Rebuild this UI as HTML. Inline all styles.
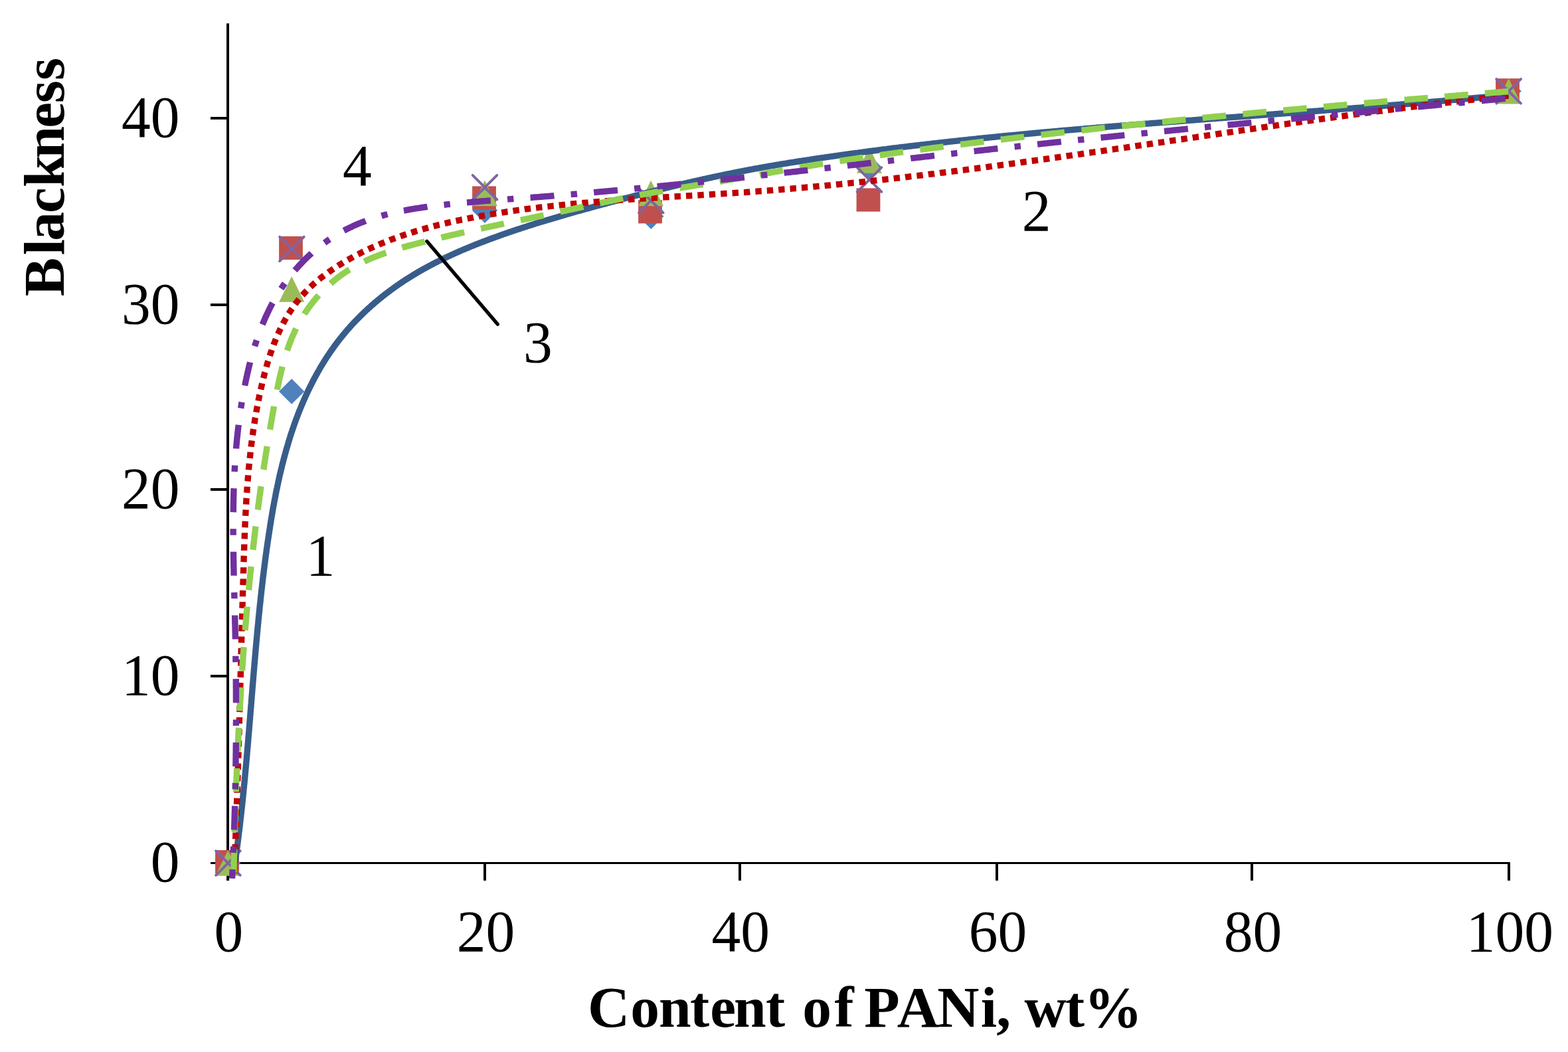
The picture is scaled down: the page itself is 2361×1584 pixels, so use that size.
<!DOCTYPE html>
<html lang="en">
<head>
<meta charset="utf-8">
<title>Blackness vs Content of PANi</title>
<style>
html,body{margin:0;padding:0;background:#fff;}
body{width:2361px;height:1584px;overflow:hidden;}
svg{display:block;}
</style>
</head>
<body>
<svg xmlns="http://www.w3.org/2000/svg" width="2361" height="1584" viewBox="0 0 2361 1584">
<rect width="2361" height="1584" fill="#fff"/>
<g stroke="#000" fill="none">
<line x1="343.03" y1="35.2" x2="343.03" y2="1325.9" stroke-width="3.95"/>
<line x1="317" y1="1299.45" x2="2273.9" y2="1299.45" stroke-width="3.08"/>
<line x1="317" y1="1018.00" x2="343" y2="1018.00" stroke-width="3.95"/>
<line x1="317" y1="737.00" x2="343" y2="737.00" stroke-width="3.95"/>
<line x1="317" y1="458.97" x2="343" y2="458.97" stroke-width="3.95"/>
<line x1="317" y1="177.95" x2="343" y2="177.95" stroke-width="3.95"/>
<line x1="730.00" y1="1299" x2="730.00" y2="1325.9" stroke-width="3.95"/>
<line x1="1113.97" y1="1299" x2="1113.97" y2="1325.9" stroke-width="3.95"/>
<line x1="1501.00" y1="1299" x2="1501.00" y2="1325.9" stroke-width="3.95"/>
<line x1="1885.00" y1="1299" x2="1885.00" y2="1325.9" stroke-width="3.95"/>
<line x1="2272.00" y1="1299" x2="2272.00" y2="1325.9" stroke-width="3.95"/>
</g>
<g font-family="'Liberation Serif', 'Times New Roman', serif" font-size="87.5" fill="#000">
<text transform="translate(270.6 1327.45) scale(1 1.018)" text-anchor="end">0</text>
<text transform="translate(270.6 1046.00) scale(1 1.018)" text-anchor="end">10</text>
<text transform="translate(270.6 765.00) scale(1 1.018)" text-anchor="end">20</text>
<text transform="translate(270.6 486.97) scale(1 1.018)" text-anchor="end">30</text>
<text transform="translate(270.6 205.95) scale(1 1.018)" text-anchor="end">40</text>
<text transform="translate(344.45 1431.9) scale(1 1.018)" text-anchor="middle">0</text>
<text transform="translate(731.40 1431.9) scale(1 1.018)" text-anchor="middle">20</text>
<text transform="translate(1115.37 1431.9) scale(1 1.018)" text-anchor="middle">40</text>
<text transform="translate(1502.40 1431.9) scale(1 1.018)" text-anchor="middle">60</text>
<text transform="translate(1886.40 1431.9) scale(1 1.018)" text-anchor="middle">80</text>
<text transform="translate(2273.40 1431.9) scale(1 1.018)" text-anchor="middle">100</text>
</g>
<g font-family="'Liberation Serif', 'Times New Roman', serif" font-weight="bold" font-size="87.5" fill="#000">
<text x="885.1 949.3 991.9 1039.0 1069.3 1105.0 1152.9 1182.0 1208.2 1256.4 1285.5 1301.2 1350.7 1411.3 1476.8 1500.2 1522.0 1542.5 1604.0 1632.6" y="1546.4">Content of PANi, wt%</text>
<text transform="translate(96.2 446.24) rotate(-90)" x="0.0 61.9 83.6 125.2 164.2 207.7 253.5 291.0 325.2" y="0">Blackness</text>
</g>
<g>
<path d="M343.2,1280.3 L362.4,1299.5 L343.2,1318.7 L324.0,1299.5 Z" fill="#4F81BD"/>
<path d="M439.2,570.1999999999999 L458.4,589.4 L439.2,608.6 L420.0,589.4 Z" fill="#4F81BD"/>
<path d="M730,297.6 L749.2,316.8 L730,336.0 L710.8,316.8 Z" fill="#4F81BD"/>
<path d="M980.3,306.6 L999.5,325.8 L980.3,345.0 L961.0999999999999,325.8 Z" fill="#4F81BD"/>
<path d="M1308,232.0 L1327.2,251.2 L1308,270.4 L1288.8,251.2 Z" fill="#4F81BD"/>
<path d="M2271.6,118.10000000000001 L2290.7999999999997,137.3 L2271.6,156.5 L2252.4,137.3 Z" fill="#4F81BD"/>
<rect x="324.1" y="1280.1" width="35.8" height="35.2" fill="#C0504D"/>
<rect x="420.1" y="355.8" width="35.8" height="35.2" fill="#C0504D"/>
<rect x="711.1" y="280.4" width="35.8" height="35.2" fill="#C0504D"/>
<rect x="961.1" y="301.2" width="35.8" height="35.2" fill="#C0504D"/>
<rect x="1289.6" y="283.4" width="35.8" height="35.2" fill="#C0504D"/>
<rect x="2252.1" y="118.2" width="35.8" height="35.2" fill="#C0504D"/>
<path d="M343.2,1280.2 L362.2,1318.8 L324.2,1318.8 Z" fill="#9BBB59"/>
<path d="M439.2,416.09999999999997 L458.2,454.7 L420.2,454.7 Z" fill="#9BBB59"/>
<path d="M730,271.59999999999997 L749,310.2 L711,310.2 Z" fill="#9BBB59"/>
<path d="M980.1,271.7 L999.1,310.3 L961.1,310.3 Z" fill="#9BBB59"/>
<path d="M1309,222.2 L1328,260.8 L1290,260.8 Z" fill="#9BBB59"/>
<path d="M2271.6,118.00000000000001 L2290.6,156.60000000000002 L2252.6,156.60000000000002 Z" fill="#9BBB59"/>
<path d="M325.09999999999997,1281.2 L361.7,1317.8 M325.09999999999997,1317.8 L361.7,1281.2" stroke="#8064A2" stroke-width="3.9" stroke-linecap="round" fill="none"/>
<path d="M421.09999999999997,356.59999999999997 L457.7,393.2 M421.09999999999997,393.2 L457.7,356.59999999999997" stroke="#8064A2" stroke-width="3.9" stroke-linecap="round" fill="none"/>
<path d="M711.7,263.9 L748.3,300.5 M711.7,300.5 L748.3,263.9" stroke="#8064A2" stroke-width="3.9" stroke-linecap="round" fill="none"/>
<path d="M962.0,283.7 L998.5999999999999,320.3 M962.0,320.3 L998.5999999999999,283.7" stroke="#8064A2" stroke-width="3.9" stroke-linecap="round" fill="none"/>
<path d="M1290.7,252.2 L1327.3,288.8 M1290.7,288.8 L1327.3,252.2" stroke="#8064A2" stroke-width="3.9" stroke-linecap="round" fill="none"/>
<path d="M2253.2999999999997,119.00000000000001 L2289.9,155.60000000000002 M2253.2999999999997,155.60000000000002 L2289.9,119.00000000000001" stroke="#8064A2" stroke-width="3.9" stroke-linecap="round" fill="none"/>
</g>
<g fill="none" stroke-width="9.4" stroke-linejoin="round">
<path d="M352.3,1309.1 L352.6,1307.3 L352.9,1305.5 L353.1,1303.8 L353.4,1302.0 L353.6,1300.3 L353.9,1298.5 L354.1,1296.7 L354.4,1295.0 L354.6,1293.2 L354.9,1291.4 L355.1,1289.7 L355.4,1287.9 L355.6,1286.2 L355.9,1284.4 L356.1,1282.6 L356.3,1280.9 L356.6,1279.1 L356.8,1277.4 L357.0,1275.6 L357.3,1273.8 L357.5,1272.1 L357.7,1270.3 L358.0,1268.6 L358.2,1266.8 L358.4,1265.0 L358.6,1263.3 L358.9,1261.5 L359.1,1259.8 L359.3,1258.0 L359.5,1256.2 L359.7,1254.5 L359.9,1252.7 L360.2,1250.9 L360.4,1249.2 L360.6,1247.4 L360.8,1245.7 L361.0,1243.9 L361.2,1242.1 L361.4,1240.4 L361.6,1238.6 L361.8,1236.9 L362.0,1235.1 L362.2,1233.3 L362.4,1231.6 L362.6,1229.8 L362.8,1228.0 L363.0,1226.3 L363.2,1224.5 L363.4,1222.8 L363.6,1221.0 L363.8,1219.2 L364.0,1217.5 L364.2,1215.7 L364.4,1214.0 L364.6,1212.2 L364.7,1210.4 L364.9,1208.7 L365.1,1206.9 L365.3,1205.1 L365.5,1203.4 L365.7,1201.6 L365.8,1199.9 L366.0,1198.1 L366.2,1196.3 L366.4,1194.6 L366.6,1192.8 L366.7,1191.0 L366.9,1189.3 L367.1,1187.5 L367.3,1185.8 L367.4,1184.0 L367.6,1182.2 L367.8,1180.5 L368.0,1178.7 L368.1,1177.0 L368.3,1175.2 L368.5,1173.4 L368.6,1171.7 L368.8,1169.9 L369.0,1168.1 L369.1,1166.4 L369.3,1164.6 L369.5,1162.9 L369.6,1161.1 L369.8,1159.3 L369.9,1157.6 L370.1,1155.8 L370.3,1154.0 L370.4,1152.3 L370.6,1150.5 L370.7,1148.8 L370.9,1147.0 L371.1,1145.2 L371.2,1143.5 L371.4,1141.7 L371.5,1140.0 L371.7,1138.2 L371.8,1136.4 L372.0,1134.7 L372.1,1132.9 L372.3,1131.1 L372.4,1129.4 L372.6,1127.6 L372.8,1125.9 L372.9,1124.1 L373.1,1122.3 L373.2,1120.6 L373.4,1118.8 L373.5,1117.0 L373.7,1115.3 L373.8,1113.5 L373.9,1111.8 L374.1,1110.0 L374.2,1108.2 L374.4,1106.5 L374.5,1104.7 L374.7,1103.0 L374.8,1101.2 L375.0,1099.4 L375.1,1097.7 L375.3,1095.9 L375.4,1094.1 L375.6,1092.4 L375.7,1090.6 L375.8,1088.9 L376.0,1087.1 L376.1,1085.3 L376.3,1083.6 L376.4,1081.8 L376.6,1080.1 L376.7,1078.3 L376.9,1076.5 L377.0,1074.8 L377.1,1073.0 L377.3,1071.2 L377.4,1069.5 L377.6,1067.7 L377.7,1066.0 L377.9,1064.2 L378.0,1062.4 L378.1,1060.7 L378.3,1058.9 L378.4,1057.2 L378.6,1055.4 L378.7,1053.6 L378.9,1051.9 L379.0,1050.1 L379.1,1048.3 L379.3,1046.6 L379.4,1044.8 L379.6,1043.1 L379.7,1041.3 L379.9,1039.5 L380.0,1037.8 L380.1,1036.0 L380.3,1034.3 L380.4,1032.5 L380.6,1030.7 L380.7,1029.0 L380.9,1027.2 L381.0,1025.4 L381.2,1023.7 L381.3,1021.9 L381.4,1020.2 L381.6,1018.4 L381.7,1016.6 L381.9,1014.9 L382.0,1013.1 L382.2,1011.4 L382.3,1009.6 L382.5,1007.8 L382.6,1006.1 L382.8,1004.3 L382.9,1002.6 L383.1,1000.8 L383.2,999.0 L383.4,997.3 L383.5,995.5 L383.7,993.8 L383.8,992.0 L384.0,990.2 L384.1,988.5 L384.3,986.7 L384.4,985.0 L384.6,983.2 L384.7,981.4 L384.9,979.7 L385.0,977.9 L385.2,976.2 L385.3,974.4 L385.5,972.6 L385.7,970.9 L385.8,969.1 L386.0,967.4 L386.1,965.6 L386.3,963.8 L386.4,962.1 L386.6,960.3 L386.8,958.6 L386.9,956.8 L387.1,955.0 L387.3,953.3 L387.4,951.5 L387.6,949.8 L387.8,948.0 L387.9,946.2 L388.1,944.5 L388.3,942.7 L388.4,941.0 L388.6,939.2 L388.8,937.4 L388.9,935.7 L389.1,933.9 L389.3,932.2 L389.4,930.4 L389.6,928.7 L389.8,926.9 L390.0,925.1 L390.2,923.4 L390.3,921.6 L390.5,919.9 L390.7,918.1 L390.9,916.3 L391.0,914.6 L391.2,912.8 L391.4,911.1 L391.6,909.3 L391.8,907.6 L392.0,905.8 L392.2,904.0 L392.3,902.3 L392.5,900.5 L392.7,898.8 L392.9,897.0 L393.1,895.2 L393.3,893.5 L393.5,891.7 L393.7,890.0 L393.9,888.2 L394.1,886.5 L394.3,884.7 L394.5,882.9 L394.7,881.2 L394.9,879.4 L395.1,877.7 L395.3,875.9 L395.5,874.2 L395.7,872.4 L395.9,870.6 L396.1,868.9 L396.3,867.1 L396.6,865.4 L396.8,863.6 L397.0,861.9 L397.2,860.1 L397.4,858.3 L397.6,856.6 L397.9,854.8 L398.1,853.1 L398.3,851.3 L398.5,849.6 L398.8,847.8 L399.0,846.1 L399.2,844.3 L399.4,842.5 L399.7,840.8 L399.9,839.0 L400.1,837.3 L400.4,835.5 L400.6,833.8 L400.9,832.0 L401.1,830.3 L401.3,828.5 L401.6,826.7 L401.8,825.0 L402.1,823.2 L402.3,821.5 L402.6,819.7 L402.8,818.0 L403.1,816.2 L403.3,814.5 L403.6,812.7 L403.9,810.9 L404.1,809.2 L404.4,807.4 L404.6,805.7 L404.9,803.9 L405.2,802.2 L405.4,800.4 L405.7,798.7 L406.0,796.9 L406.3,795.2 L406.5,793.4 L406.8,791.6 L407.1,789.9 L407.4,788.1 L407.7,786.4 L407.9,784.6 L408.2,782.9 L408.5,781.1 L408.8,779.4 L409.1,777.6 L409.4,775.9 L409.7,774.1 L410.0,772.4 L410.3,770.6 L410.6,768.9 L410.9,767.1 L411.2,765.4 L411.5,763.6 L411.8,761.9 L412.2,760.1 L412.5,758.4 L412.8,756.6 L413.1,754.9 L413.5,753.1 L413.8,751.4 L414.1,749.7 L414.5,747.9 L414.8,746.2 L415.1,744.4 L415.5,742.7 L415.8,740.9 L416.2,739.2 L416.5,737.5 L416.9,735.7 L417.3,734.0 L417.6,732.2 L418.0,730.5 L418.4,728.8 L418.7,727.0 L419.1,725.3 L419.5,723.6 L419.9,721.8 L420.2,720.1 L420.6,718.4 L421.0,716.6 L421.4,714.9 L421.8,713.2 L422.2,711.5 L422.6,709.7 L423.0,708.0 L423.5,706.3 L423.9,704.6 L424.3,702.8 L424.7,701.1 L425.1,699.4 L425.6,697.7 L426.0,696.0 L426.5,694.2 L426.9,692.5 L427.3,690.8 L427.8,689.1 L428.3,687.4 L428.7,685.7 L429.2,684.0 L429.7,682.3 L430.1,680.5 L430.6,678.8 L431.1,677.1 L431.6,675.4 L432.1,673.7 L432.6,672.0 L433.1,670.3 L433.6,668.6 L434.1,666.9 L434.6,665.2 L435.1,663.6 L435.6,661.9 L436.1,660.2 L436.7,658.5 L437.2,656.8 L437.7,655.1 L438.3,653.4 L438.8,651.7 L439.4,650.1 L440.0,648.4 L440.5,646.7 L441.1,645.0 L441.7,643.4 L442.2,641.7 L442.8,640.0 L443.4,638.3 L444.0,636.7 L444.6,635.0 L445.2,633.3 L445.8,631.7 L446.4,630.0 L447.1,628.4 L447.7,626.7 L448.3,625.1 L448.9,623.4 L449.6,621.8 L450.2,620.1 L450.9,618.5 L451.6,616.8 L452.2,615.2 L452.9,613.5 L453.6,611.9 L454.2,610.3 L454.9,608.6 L455.6,607.0 L456.3,605.4 L457.0,603.7 L457.7,602.1 L458.4,600.5 L459.2,598.9 L459.9,597.2 L460.6,595.6 L461.4,594.0 L462.1,592.4 L462.9,590.8 L463.6,589.2 L464.4,587.6 L465.1,586.0 L465.9,584.4 L466.7,582.8 L467.5,581.2 L468.3,579.6 L469.1,578.1 L469.9,576.5 L470.7,574.9 L471.5,573.3 L472.3,571.8 L473.1,570.2 L474.0,568.6 L474.8,567.1 L475.7,565.5 L476.5,564.0 L477.4,562.4 L478.2,560.9 L479.1,559.3 L480.0,557.8 L480.9,556.3 L481.7,554.7 L482.6,553.2 L483.5,551.7 L484.5,550.2 L485.4,548.7 L486.3,547.2 L487.2,545.7 L488.1,544.2 L489.1,542.7 L490.0,541.2 L491.0,539.7 L491.9,538.2 L492.9,536.7 L493.9,535.2 L494.9,533.8 L495.8,532.3 L496.8,530.8 L497.8,529.4 L498.8,527.9 L499.8,526.5 L500.9,525.1 L501.9,523.6 L502.9,522.2 L503.9,520.8 L505.0,519.3 L506.0,517.9 L507.1,516.5 L508.2,515.1 L509.2,513.7 L510.3,512.3 L511.4,510.9 L512.5,509.5 L513.6,508.2 L514.7,506.8 L515.8,505.4 L516.9,504.1 L518.0,502.7 L519.2,501.4 L520.3,500.0 L521.4,498.7 L522.6,497.3 L523.7,496.0 L524.9,494.7 L526.1,493.4 L527.2,492.0 L528.4,490.7 L529.6,489.4 L530.8,488.1 L532.0,486.8 L533.2,485.6 L534.4,484.3 L535.6,483.0 L536.9,481.7 L538.1,480.5 L539.3,479.2 L540.6,478.0 L541.8,476.7 L543.1,475.5 L544.3,474.2 L545.6,473.0 L546.9,471.8 L548.1,470.6 L549.4,469.3 L550.7,468.1 L552.0,466.9 L553.3,465.7 L554.6,464.5 L555.9,463.4 L557.2,462.2 L558.5,461.0 L559.8,459.8 L561.2,458.7 L562.5,457.5 L563.8,456.3 L565.2,455.2 L566.5,454.1 L567.9,452.9 L569.2,451.8 L570.6,450.7 L572.0,449.5 L573.4,448.4 L574.7,447.3 L576.1,446.2 L577.5,445.1 L578.9,444.0 L580.3,442.9 L581.7,441.9 L583.1,440.8 L584.5,439.7 L585.9,438.7 L587.3,437.6 L588.8,436.5 L590.2,435.5 L591.6,434.5 L593.0,433.4 L594.5,432.4 L595.9,431.4 L597.4,430.4 L598.8,429.3 L600.3,428.3 L601.7,427.3 L603.2,426.3 L604.7,425.4 L606.1,424.4 L607.6,423.4 L609.1,422.4 L610.6,421.4 L612.1,420.5 L613.6,419.5 L615.1,418.6 L616.6,417.6 L618.1,416.7 L619.6,415.8 L621.1,414.8 L622.6,413.9 L624.1,413.0 L625.6,412.1 L627.1,411.2 L628.7,410.3 L630.2,409.4 L631.7,408.5 L633.2,407.6 L634.8,406.8 L636.3,405.9 L637.9,405.0 L639.4,404.2 L641.0,403.3 L642.5,402.5 L644.1,401.6 L645.6,400.8 L647.2,399.9 L648.8,399.1 L650.3,398.3 L651.9,397.5 L653.5,396.6 L655.0,395.8 L656.6,395.0 L658.2,394.2 L659.8,393.4 L661.4,392.6 L662.9,391.8 L664.5,391.1 L666.1,390.3 L667.7,389.5 L669.3,388.7 L670.9,388.0 L672.5,387.2 L674.1,386.5 L675.7,385.7 L677.3,385.0 L678.9,384.2 L680.6,383.5 L682.2,382.7 L683.8,382.0 L685.4,381.3 L687.0,380.6 L688.6,379.8 L690.3,379.1 L691.9,378.4 L693.5,377.7 L695.2,377.0 L696.8,376.3 L698.4,375.6 L700.1,374.9 L701.7,374.2 L703.3,373.6 L705.0,372.9 L706.6,372.2 L708.3,371.5 L709.9,370.8 L711.5,370.2 L713.2,369.5 L714.8,368.9 L716.5,368.2 L718.1,367.5 L719.8,366.9 L721.4,366.2 L723.1,365.6 L724.7,365.0 L726.4,364.3 L728.1,363.7 L729.7,363.1 L731.4,362.4 L733.0,361.8 L734.7,361.2 L736.4,360.5 L738.0,359.9 L739.7,359.3 L741.4,358.7 L743.0,358.1 L744.7,357.5 L746.4,356.9 L748.0,356.3 L749.7,355.7 L751.4,355.1 L753.0,354.5 L754.7,353.9 L756.4,353.3 L758.0,352.7 L759.7,352.1 L761.4,351.5 L763.1,351.0 L764.7,350.4 L766.4,349.8 L768.1,349.2 L769.8,348.7 L771.4,348.1 L773.1,347.5 L774.8,347.0 L776.5,346.4 L778.2,345.8 L779.8,345.3 L781.5,344.7 L783.2,344.2 L784.9,343.6 L786.6,343.1 L788.3,342.5 L789.9,342.0 L791.6,341.4 L793.3,340.9 L795.0,340.3 L796.7,339.8 L798.4,339.3 L800.1,338.7 L801.7,338.2 L803.4,337.7 L805.1,337.1 L806.8,336.6 L808.5,336.1 L810.2,335.6 L811.9,335.0 L813.6,334.5 L815.3,334.0 L817.0,333.5 L818.7,333.0 L820.3,332.4 L822.0,331.9 L823.7,331.4 L825.4,330.9 L827.1,330.4 L828.8,329.9 L830.5,329.4 L832.2,328.9 L833.9,328.4 L835.6,327.9 L837.3,327.4 L839.0,326.9 L840.7,326.4 L842.4,325.9 L844.1,325.4 L845.8,324.9 L847.5,324.4 L849.2,323.9 L850.9,323.4 L852.6,322.9 L854.3,322.5 L856.0,322.0 L857.7,321.5 L859.4,321.0 L861.1,320.5 L862.8,320.0 L864.5,319.6 L866.2,319.1 L867.9,318.6 L869.6,318.1 L871.3,317.6 L873.0,317.2 L874.7,316.7 L876.4,316.2 L878.1,315.7 L879.8,315.3 L881.6,314.8 L883.3,314.3 L885.0,313.9 L886.7,313.4 L888.4,312.9 L890.1,312.4 L891.8,312.0 L893.5,311.5 L895.2,311.0 L896.9,310.6 L898.6,310.1 L900.3,309.6 L902.0,309.2 L903.7,308.7 L905.4,308.3 L907.2,307.8 L908.9,307.3 L910.6,306.9 L912.3,306.4 L914.0,305.9 L915.7,305.5 L917.4,305.0 L919.1,304.6 L920.8,304.1 L922.5,303.7 L924.2,303.2 L925.9,302.7 L927.7,302.3 L929.4,301.8 L931.1,301.4 L932.8,300.9 L934.5,300.5 L936.2,300.0 L937.9,299.6 L939.6,299.1 L941.3,298.7 L943.0,298.2 L944.8,297.8 L946.5,297.3 L948.2,296.9 L949.9,296.4 L951.6,296.0 L953.3,295.5 L955.0,295.1 L956.7,294.6 L958.4,294.2 L960.2,293.8 L961.9,293.3 L963.6,292.9 L965.3,292.4 L967.0,292.0 L968.7,291.6 L970.4,291.1 L972.1,290.7 L973.9,290.2 L975.6,289.8 L977.3,289.4 L979.0,288.9 L980.7,288.5 L982.4,288.1 L984.2,287.7 L985.9,287.2 L987.6,286.8 L989.3,286.4 L991.0,285.9 L992.7,285.5 L994.4,285.1 L996.2,284.7 L997.9,284.2 L999.6,283.8 L1001.3,283.4 L1003.0,283.0 L1004.7,282.6 L1006.5,282.1 L1008.2,281.7 L1009.9,281.3 L1011.6,280.9 L1013.3,280.5 L1015.1,280.1 L1016.8,279.7 L1018.5,279.2 L1020.2,278.8 L1021.9,278.4 L1023.7,278.0 L1025.4,277.6 L1027.1,277.2 L1028.8,276.8 L1030.5,276.4 L1032.3,276.0 L1034.0,275.6 L1035.7,275.2 L1037.4,274.8 L1039.2,274.4 L1040.9,274.0 L1042.6,273.6 L1044.3,273.2 L1046.0,272.8 L1047.8,272.4 L1049.5,272.0 L1051.2,271.7 L1052.9,271.3 L1054.7,270.9 L1056.4,270.5 L1058.1,270.1 L1059.9,269.7 L1061.6,269.3 L1063.3,269.0 L1065.0,268.6 L1066.8,268.2 L1068.5,267.8 L1070.2,267.5 L1071.9,267.1 L1073.7,266.7 L1075.4,266.3 L1077.1,266.0 L1078.9,265.6 L1080.6,265.2 L1082.3,264.9 L1084.0,264.5 L1085.8,264.1 L1087.5,263.8 L1089.2,263.4 L1091.0,263.0 L1092.7,262.7 L1094.4,262.3 L1096.2,262.0 L1097.9,261.6 L1099.6,261.3 L1101.4,260.9 L1103.1,260.6 L1104.8,260.2 L1106.6,259.9 L1108.3,259.5 L1110.0,259.2 L1111.8,258.8 L1113.5,258.5 L1115.2,258.2 L1117.0,257.8 L1118.7,257.5 L1120.5,257.2 L1122.2,256.8 L1123.9,256.5 L1125.7,256.2 L1127.4,255.8 L1129.2,255.5 L1130.9,255.2 L1132.6,254.9 L1134.4,254.5 L1136.1,254.2 L1137.9,253.9 L1139.6,253.6 L1141.3,253.3 L1143.1,252.9 L1144.8,252.6 L1146.6,252.3 L1148.3,252.0 L1150.0,251.7 L1151.8,251.4 L1153.5,251.1 L1155.3,250.8 L1157.0,250.5 L1158.8,250.2 L1160.5,249.9 L1162.3,249.6 L1164.0,249.3 L1165.7,249.0 L1167.5,248.7 L1169.2,248.4 L1171.0,248.1 L1172.7,247.8 L1174.5,247.5 L1176.2,247.2 L1178.0,246.9 L1179.7,246.6 L1181.5,246.3 L1183.2,246.1 L1185.0,245.8 L1186.7,245.5 L1188.5,245.2 L1190.2,244.9 L1192.0,244.6 L1193.7,244.4 L1195.4,244.1 L1197.2,243.8 L1198.9,243.5 L1200.7,243.3 L1202.4,243.0 L1204.2,242.7 L1205.9,242.4 L1207.7,242.2 L1209.4,241.9 L1211.2,241.6 L1212.9,241.4 L1214.7,241.1 L1216.5,240.8 L1218.2,240.6 L1220.0,240.3 L1221.7,240.0 L1223.5,239.8 L1225.2,239.5 L1227.0,239.2 L1228.7,239.0 L1230.5,238.7 L1232.2,238.5 L1234.0,238.2 L1235.7,237.9 L1237.5,237.7 L1239.2,237.4 L1241.0,237.2 L1242.7,236.9 L1244.5,236.7 L1246.2,236.4 L1248.0,236.2 L1249.7,235.9 L1251.5,235.7 L1253.3,235.4 L1255.0,235.2 L1256.8,234.9 L1258.5,234.7 L1260.3,234.4 L1262.0,234.2 L1263.8,233.9 L1265.5,233.7 L1267.3,233.4 L1269.0,233.2 L1270.8,232.9 L1272.5,232.7 L1274.3,232.5 L1276.0,232.2 L1277.8,232.0 L1279.6,231.7 L1281.3,231.5 L1283.1,231.2 L1284.8,231.0 L1286.6,230.8 L1288.3,230.5 L1290.1,230.3 L1291.8,230.1 L1293.6,229.8 L1295.3,229.6 L1297.1,229.4 L1298.9,229.1 L1300.6,228.9 L1302.4,228.7 L1304.1,228.4 L1305.9,228.2 L1307.6,228.0 L1309.4,227.7 L1311.1,227.5 L1312.9,227.3 L1314.7,227.0 L1316.4,226.8 L1318.2,226.6 L1319.9,226.4 L1321.7,226.1 L1323.4,225.9 L1325.2,225.7 L1326.9,225.5 L1328.7,225.2 L1330.5,225.0 L1332.2,224.8 L1334.0,224.6 L1335.7,224.3 L1337.5,224.1 L1339.2,223.9 L1341.0,223.7 L1342.7,223.5 L1344.5,223.2 L1346.3,223.0 L1348.0,222.8 L1349.8,222.6 L1351.5,222.4 L1353.3,222.2 L1355.0,221.9 L1356.8,221.7 L1358.6,221.5 L1360.3,221.3 L1362.1,221.1 L1363.8,220.9 L1365.6,220.7 L1367.3,220.5 L1369.1,220.2 L1370.9,220.0 L1372.6,219.8 L1374.4,219.6 L1376.1,219.4 L1377.9,219.2 L1379.6,219.0 L1381.4,218.8 L1383.2,218.6 L1384.9,218.4 L1386.7,218.2 L1388.4,218.0 L1390.2,217.8 L1392.0,217.6 L1393.7,217.4 L1395.5,217.2 L1397.2,217.0 L1399.0,216.8 L1400.7,216.6 L1402.5,216.4 L1404.3,216.2 L1406.0,216.0 L1407.8,215.8 L1409.5,215.6 L1411.3,215.4 L1413.1,215.2 L1414.8,215.0 L1416.6,214.8 L1418.3,214.6 L1420.1,214.4 L1421.8,214.2 L1423.6,214.0 L1425.4,213.8 L1427.1,213.6 L1428.9,213.4 L1430.6,213.2 L1432.4,213.0 L1434.2,212.8 L1435.9,212.6 L1437.7,212.4 L1439.4,212.3 L1441.2,212.1 L1443.0,211.9 L1444.7,211.7 L1446.5,211.5 L1448.2,211.3 L1450.0,211.1 L1451.8,210.9 L1453.5,210.8 L1455.3,210.6 L1457.0,210.4 L1458.8,210.2 L1460.6,210.0 L1462.3,209.8 L1464.1,209.6 L1465.8,209.5 L1467.6,209.3 L1469.4,209.1 L1471.1,208.9 L1472.9,208.7 L1474.6,208.5 L1476.4,208.4 L1478.2,208.2 L1479.9,208.0 L1481.7,207.8 L1483.4,207.7 L1485.2,207.5 L1487.0,207.3 L1488.7,207.1 L1490.5,206.9 L1492.2,206.8 L1494.0,206.6 L1495.8,206.4 L1497.5,206.2 L1499.3,206.1 L1501.0,205.9 L1502.8,205.7 L1504.6,205.5 L1506.3,205.4 L1508.1,205.2 L1509.9,205.0 L1511.6,204.8 L1513.4,204.7 L1515.1,204.5 L1516.9,204.3 L1518.7,204.2 L1520.4,204.0 L1522.2,203.8 L1523.9,203.6 L1525.7,203.5 L1527.5,203.3 L1529.2,203.1 L1531.0,203.0 L1532.8,202.8 L1534.5,202.6 L1536.3,202.5 L1538.0,202.3 L1539.8,202.1 L1541.6,202.0 L1543.3,201.8 L1545.1,201.6 L1546.8,201.5 L1548.6,201.3 L1550.4,201.2 L1552.1,201.0 L1553.9,200.8 L1555.7,200.7 L1557.4,200.5 L1559.2,200.3 L1560.9,200.2 L1562.7,200.0 L1564.5,199.9 L1566.2,199.7 L1568.0,199.5 L1569.8,199.4 L1571.5,199.2 L1573.3,199.0 L1575.0,198.9 L1576.8,198.7 L1578.6,198.6 L1580.3,198.4 L1582.1,198.3 L1583.9,198.1 L1585.6,197.9 L1587.4,197.8 L1589.1,197.6 L1590.9,197.5 L1592.7,197.3 L1594.4,197.2 L1596.2,197.0 L1598.0,196.8 L1599.7,196.7 L1601.5,196.5 L1603.2,196.4 L1605.0,196.2 L1606.8,196.1 L1608.5,195.9 L1610.3,195.8 L1612.1,195.6 L1613.8,195.5 L1615.6,195.3 L1617.4,195.2 L1619.1,195.0 L1620.9,194.9 L1622.6,194.7 L1624.4,194.6 L1626.2,194.4 L1627.9,194.3 L1629.7,194.1 L1631.5,194.0 L1633.2,193.8 L1635.0,193.7 L1636.8,193.5 L1638.5,193.4 L1640.3,193.2 L1642.0,193.1 L1643.8,192.9 L1645.6,192.8 L1647.3,192.6 L1649.1,192.5 L1650.9,192.3 L1652.6,192.2 L1654.4,192.0 L1656.2,191.9 L1657.9,191.7 L1659.7,191.6 L1661.4,191.5 L1663.2,191.3 L1665.0,191.2 L1666.7,191.0 L1668.5,190.9 L1670.3,190.7 L1672.0,190.6 L1673.8,190.4 L1675.6,190.3 L1677.3,190.2 L1679.1,190.0 L1680.9,189.9 L1682.6,189.7 L1684.4,189.6 L1686.1,189.4 L1687.9,189.3 L1689.7,189.2 L1691.4,189.0 L1693.2,188.9 L1695.0,188.7 L1696.7,188.6 L1698.5,188.5 L1700.3,188.3 L1702.0,188.2 L1703.8,188.0 L1705.6,187.9 L1707.3,187.8 L1709.1,187.6 L1710.8,187.5 L1712.6,187.3 L1714.4,187.2 L1716.1,187.1 L1717.9,186.9 L1719.7,186.8 L1721.4,186.6 L1723.2,186.5 L1725.0,186.4 L1726.7,186.2 L1728.5,186.1 L1730.3,186.0 L1732.0,185.8 L1733.8,185.7 L1735.6,185.5 L1737.3,185.4 L1739.1,185.3 L1740.9,185.1 L1742.6,185.0 L1744.4,184.9 L1746.1,184.7 L1747.9,184.6 L1749.7,184.5 L1751.4,184.3 L1753.2,184.2 L1755.0,184.0 L1756.7,183.9 L1758.5,183.8 L1760.3,183.6 L1762.0,183.5 L1763.8,183.4 L1765.6,183.2 L1767.3,183.1 L1769.1,183.0 L1770.9,182.8 L1772.6,182.7 L1774.4,182.6 L1776.2,182.4 L1777.9,182.3 L1779.7,182.2 L1781.4,182.0 L1783.2,181.9 L1785.0,181.8 L1786.7,181.6 L1788.5,181.5 L1790.3,181.4 L1792.0,181.2 L1793.8,181.1 L1795.6,181.0 L1797.3,180.8 L1799.1,180.7 L1800.9,180.6 L1802.6,180.4 L1804.4,180.3 L1806.2,180.2 L1807.9,180.0 L1809.7,179.9 L1811.5,179.8 L1813.2,179.7 L1815.0,179.5 L1816.8,179.4 L1818.5,179.3 L1820.3,179.1 L1822.1,179.0 L1823.8,178.9 L1825.6,178.7 L1827.3,178.6 L1829.1,178.5 L1830.9,178.3 L1832.6,178.2 L1834.4,178.1 L1836.2,177.9 L1837.9,177.8 L1839.7,177.7 L1841.5,177.6 L1843.2,177.4 L1845.0,177.3 L1846.8,177.2 L1848.5,177.0 L1850.3,176.9 L1852.1,176.8 L1853.8,176.6 L1855.6,176.5 L1857.4,176.4 L1859.1,176.3 L1860.9,176.1 L1862.7,176.0 L1864.4,175.9 L1866.2,175.7 L1868.0,175.6 L1869.7,175.5 L1871.5,175.3 L1873.3,175.2 L1875.0,175.1 L1876.8,175.0 L1878.6,174.8 L1880.3,174.7 L1882.1,174.6 L1883.8,174.4 L1885.6,174.3 L1887.4,174.2 L1889.1,174.0 L1890.9,173.9 L1892.7,173.8 L1894.4,173.7 L1896.2,173.5 L1898.0,173.4 L1899.7,173.3 L1901.5,173.1 L1903.3,173.0 L1905.0,172.9 L1906.8,172.7 L1908.6,172.6 L1910.3,172.5 L1912.1,172.4 L1913.9,172.2 L1915.6,172.1 L1917.4,172.0 L1919.2,171.8 L1920.9,171.7 L1922.7,171.6 L1924.5,171.4 L1926.2,171.3 L1928.0,171.2 L1929.8,171.1 L1931.5,170.9 L1933.3,170.8 L1935.1,170.7 L1936.8,170.5 L1938.6,170.4 L1940.3,170.3 L1942.1,170.1 L1943.9,170.0 L1945.6,169.9 L1947.4,169.7 L1949.2,169.6 L1950.9,169.5 L1952.7,169.4 L1954.5,169.2 L1956.2,169.1 L1958.0,169.0 L1959.8,168.8 L1961.5,168.7 L1963.3,168.6 L1965.1,168.4 L1966.8,168.3 L1968.6,168.2 L1970.4,168.0 L1972.1,167.9 L1973.9,167.8 L1975.7,167.6 L1977.4,167.5 L1979.2,167.4 L1981.0,167.2 L1982.7,167.1 L1984.5,167.0 L1986.2,166.8 L1988.0,166.7 L1989.8,166.6 L1991.5,166.4 L1993.3,166.3 L1995.1,166.2 L1996.8,166.0 L1998.6,165.9 L2000.4,165.8 L2002.1,165.6 L2003.9,165.5 L2005.7,165.4 L2007.4,165.2 L2009.2,165.1 L2011.0,165.0 L2012.7,164.8 L2014.5,164.7 L2016.3,164.6 L2018.0,164.4 L2019.8,164.3 L2021.6,164.2 L2023.3,164.0 L2025.1,163.9 L2026.8,163.8 L2028.6,163.6 L2030.4,163.5 L2032.1,163.4 L2033.9,163.2 L2035.7,163.1 L2037.4,162.9 L2039.2,162.8 L2041.0,162.7 L2042.7,162.5 L2044.5,162.4 L2046.3,162.3 L2048.0,162.1 L2049.8,162.0 L2051.6,161.8 L2053.3,161.7 L2055.1,161.6 L2056.9,161.4 L2058.6,161.3 L2060.4,161.2 L2062.1,161.0 L2063.9,160.9 L2065.7,160.7 L2067.4,160.6 L2069.2,160.5 L2071.0,160.3 L2072.7,160.2 L2074.5,160.0 L2076.3,159.9 L2078.0,159.8 L2079.8,159.6 L2081.6,159.5 L2083.3,159.3 L2085.1,159.2 L2086.8,159.0 L2088.6,158.9 L2090.4,158.8 L2092.1,158.6 L2093.9,158.5 L2095.7,158.3 L2097.4,158.2 L2099.2,158.1 L2101.0,157.9 L2102.7,157.8 L2104.5,157.6 L2106.3,157.5 L2108.0,157.3 L2109.8,157.2 L2111.5,157.0 L2113.3,156.9 L2115.1,156.8 L2116.8,156.6 L2118.6,156.5 L2120.4,156.3 L2122.1,156.2 L2123.9,156.0 L2125.7,155.9 L2127.4,155.7 L2129.2,155.6 L2131.0,155.4 L2132.7,155.3 L2134.5,155.1 L2136.2,155.0 L2138.0,154.8 L2139.8,154.7 L2141.5,154.5 L2143.3,154.4 L2145.1,154.2 L2146.8,154.1 L2148.6,153.9 L2150.4,153.8 L2152.1,153.6 L2153.9,153.5 L2155.6,153.3 L2157.4,153.2 L2159.2,153.0 L2160.9,152.9 L2162.7,152.7 L2164.5,152.6 L2166.2,152.4 L2168.0,152.3 L2169.8,152.1 L2171.5,152.0 L2173.3,151.8 L2175.0,151.7 L2176.8,151.5 L2178.6,151.4 L2180.3,151.2 L2182.1,151.0 L2183.9,150.9 L2185.6,150.7 L2187.4,150.6 L2189.1,150.4 L2190.9,150.3 L2192.7,150.1 L2194.4,149.9 L2196.2,149.8 L2198.0,149.6 L2199.7,149.5 L2201.5,149.3 L2203.2,149.1 L2205.0,149.0 L2206.8,148.8 L2208.5,148.7 L2210.3,148.5 L2212.1,148.3 L2213.8,148.2 L2215.6,148.0 L2217.3,147.9 L2219.1,147.7 L2220.9,147.5 L2222.6,147.4 L2224.4,147.2 L2226.2,147.0 L2227.9,146.9 L2229.7,146.7 L2231.4,146.6 L2233.2,146.4 L2235.0,146.2 L2236.7,146.1 L2238.5,145.9 L2240.3,145.7 L2242.0,145.6 L2243.8,145.4 L2245.5,145.2 L2247.3,145.0 L2249.1,144.9 L2250.8,144.7 L2252.6,144.5 L2254.3,144.4 L2256.1,144.2 L2257.9,144.0 L2259.6,143.9 L2261.4,143.7 L2263.2,143.5 L2264.9,143.3 L2266.7,143.2 L2268.4,143.0 L2270.2,142.8 L2272.0,142.7" stroke="#385D8A"/>
<path d="M352.5,1315.8 L352.5,1314.0 L352.6,1312.2 L352.7,1310.3 L352.8,1308.5 L352.9,1306.7 L352.9,1304.8 L353.0,1303.0 L353.1,1301.2 L353.2,1299.3 L353.2,1297.5 L353.3,1295.7 L353.4,1293.8 L353.5,1292.0 L353.6,1290.2 L353.6,1288.4 L353.7,1286.5 L353.8,1284.7 L353.9,1282.9 L353.9,1281.0 L354.0,1279.2 L354.1,1277.4 L354.1,1275.5 L354.2,1273.7 L354.3,1271.9 L354.4,1270.0 L354.4,1268.2 L354.5,1266.4 L354.6,1264.5 L354.6,1262.7 L354.7,1260.9 L354.8,1259.0 L354.9,1257.2 L354.9,1255.4 L355.0,1253.5 L355.1,1251.7 L355.1,1249.9 L355.2,1248.1 L355.3,1246.2 L355.3,1244.4 L355.4,1242.6 L355.5,1240.7 L355.5,1238.9 L355.6,1237.1 L355.7,1235.2 L355.7,1233.4 L355.8,1231.6 L355.9,1229.7 L355.9,1227.9 L356.0,1226.1 L356.1,1224.2 L356.1,1222.4 L356.2,1220.6 L356.3,1218.7 L356.3,1216.9 L356.4,1215.1 L356.5,1213.2 L356.5,1211.4 L356.6,1209.6 L356.6,1207.8 L356.7,1205.9 L356.8,1204.1 L356.8,1202.3 L356.9,1200.4 L357.0,1198.6 L357.0,1196.8 L357.1,1194.9 L357.1,1193.1 L357.2,1191.3 L357.3,1189.4 L357.3,1187.6 L357.4,1185.8 L357.4,1183.9 L357.5,1182.1 L357.6,1180.3 L357.6,1178.4 L357.7,1176.6 L357.7,1174.8 L357.8,1172.9 L357.8,1171.1 L357.9,1169.3 L358.0,1167.4 L358.0,1165.6 L358.1,1163.8 L358.1,1162.0 L358.2,1160.1 L358.2,1158.3 L358.3,1156.5 L358.4,1154.6 L358.4,1152.8 L358.5,1151.0 L358.5,1149.1 L358.6,1147.3 L358.6,1145.5 L358.7,1143.6 L358.7,1141.8 L358.8,1140.0 L358.9,1138.1 L358.9,1136.3 L359.0,1134.5 L359.0,1132.6 L359.1,1130.8 L359.1,1129.0 L359.2,1127.1 L359.2,1125.3 L359.3,1123.5 L359.3,1121.7 L359.4,1119.8 L359.4,1118.0 L359.5,1116.2 L359.6,1114.3 L359.6,1112.5 L359.7,1110.7 L359.7,1108.8 L359.8,1107.0 L359.8,1105.2 L359.9,1103.3 L359.9,1101.5 L360.0,1099.7 L360.0,1097.8 L360.1,1096.0 L360.1,1094.2 L360.2,1092.3 L360.2,1090.5 L360.3,1088.7 L360.3,1086.8 L360.4,1085.0 L360.4,1083.2 L360.5,1081.3 L360.5,1079.5 L360.6,1077.7 L360.6,1075.9 L360.7,1074.0 L360.7,1072.2 L360.8,1070.4 L360.8,1068.5 L360.9,1066.7 L360.9,1064.9 L361.0,1063.0 L361.0,1061.2 L361.1,1059.4 L361.1,1057.5 L361.2,1055.7 L361.2,1053.9 L361.3,1052.0 L361.3,1050.2 L361.4,1048.4 L361.4,1046.5 L361.5,1044.7 L361.5,1042.9 L361.6,1041.0 L361.6,1039.2 L361.7,1037.4 L361.7,1035.5 L361.8,1033.7 L361.8,1031.9 L361.9,1030.1 L361.9,1028.2 L362.0,1026.4 L362.0,1024.6 L362.1,1022.7 L362.1,1020.9 L362.2,1019.1 L362.2,1017.2 L362.3,1015.4 L362.3,1013.6 L362.4,1011.7 L362.4,1009.9 L362.5,1008.1 L362.5,1006.2 L362.6,1004.4 L362.6,1002.6 L362.7,1000.7 L362.7,998.9 L362.8,997.1 L362.8,995.2 L362.8,993.4 L362.9,991.6 L362.9,989.7 L363.0,987.9 L363.0,986.1 L363.1,984.2 L363.1,982.4 L363.2,980.6 L363.2,978.8 L363.3,976.9 L363.3,975.1 L363.4,973.3 L363.4,971.4 L363.5,969.6 L363.5,967.8 L363.6,965.9 L363.6,964.1 L363.7,962.3 L363.7,960.4 L363.8,958.6 L363.8,956.8 L363.9,954.9 L363.9,953.1 L364.0,951.3 L364.0,949.4 L364.1,947.6 L364.1,945.8 L364.2,943.9 L364.2,942.1 L364.3,940.3 L364.3,938.4 L364.4,936.6 L364.4,934.8 L364.5,932.9 L364.5,931.1 L364.6,929.3 L364.6,927.4 L364.7,925.6 L364.7,923.8 L364.8,922.0 L364.8,920.1 L364.9,918.3 L364.9,916.5 L365.0,914.6 L365.0,912.8 L365.1,911.0 L365.1,909.1 L365.2,907.3 L365.2,905.5 L365.3,903.6 L365.3,901.8 L365.4,900.0 L365.4,898.1 L365.5,896.3 L365.5,894.5 L365.6,892.6 L365.6,890.8 L365.7,889.0 L365.7,887.1 L365.8,885.3 L365.9,883.5 L365.9,881.6 L366.0,879.8 L366.0,878.0 L366.1,876.1 L366.1,874.3 L366.2,872.5 L366.2,870.6 L366.3,868.8 L366.3,867.0 L366.4,865.1 L366.4,863.3 L366.5,861.5 L366.6,859.6 L366.6,857.8 L366.7,856.0 L366.7,854.1 L366.8,852.3 L366.8,850.5 L366.9,848.6 L366.9,846.8 L367.0,845.0 L367.1,843.1 L367.1,841.3 L367.2,839.5 L367.2,837.7 L367.3,835.8 L367.4,834.0 L367.4,832.2 L367.5,830.3 L367.5,828.5 L367.6,826.7 L367.7,824.8 L367.7,823.0 L367.8,821.2 L367.8,819.3 L367.9,817.5 L368.0,815.7 L368.0,813.8 L368.1,812.0 L368.2,810.2 L368.3,808.3 L368.3,806.5 L368.4,804.7 L368.5,802.8 L368.5,801.0 L368.6,799.2 L368.7,797.3 L368.8,795.5 L368.9,793.7 L368.9,791.8 L369.0,790.0 L369.1,788.2 L369.2,786.4 L369.3,784.5 L369.3,782.7 L369.4,780.9 L369.5,779.0 L369.6,777.2 L369.7,775.4 L369.8,773.5 L369.9,771.7 L370.0,769.9 L370.1,768.1 L370.2,766.2 L370.3,764.4 L370.4,762.6 L370.5,760.7 L370.6,758.9 L370.7,757.1 L370.8,755.3 L370.9,753.4 L371.0,751.6 L371.2,749.8 L371.3,747.9 L371.4,746.1 L371.5,744.3 L371.6,742.5 L371.8,740.6 L371.9,738.8 L372.0,737.0 L372.1,735.1 L372.3,733.3 L372.4,731.5 L372.5,729.7 L372.7,727.8 L372.8,726.0 L373.0,724.2 L373.1,722.4 L373.3,720.5 L373.4,718.7 L373.6,716.9 L373.7,715.1 L373.9,713.2 L374.0,711.4 L374.2,709.6 L374.4,707.8 L374.5,705.9 L374.7,704.1 L374.9,702.3 L375.1,700.5 L375.2,698.7 L375.4,696.8 L375.6,695.0 L375.8,693.2 L376.0,691.4 L376.2,689.6 L376.4,687.7 L376.6,685.9 L376.8,684.1 L377.0,682.3 L377.2,680.4 L377.4,678.6 L377.6,676.8 L377.8,675.0 L378.0,673.2 L378.2,671.4 L378.5,669.5 L378.7,667.7 L378.9,665.9 L379.2,664.1 L379.4,662.3 L379.6,660.5 L379.9,658.6 L380.1,656.8 L380.4,655.0 L380.6,653.2 L380.9,651.4 L381.1,649.6 L381.4,647.7 L381.7,645.9 L382.0,644.1 L382.2,642.3 L382.5,640.5 L382.8,638.7 L383.1,636.9 L383.4,635.1 L383.7,633.2 L383.9,631.4 L384.2,629.6 L384.6,627.8 L384.9,626.0 L385.2,624.2 L385.5,622.4 L385.8,620.6 L386.1,618.8 L386.5,617.0 L386.8,615.1 L387.1,613.3 L387.5,611.5 L387.8,609.7 L388.2,607.9 L388.5,606.1 L388.9,604.3 L389.2,602.5 L389.6,600.7 L390.0,598.9 L390.3,597.1 L390.7,595.3 L391.1,593.5 L391.5,591.7 L391.9,589.9 L392.3,588.1 L392.7,586.3 L393.1,584.5 L393.5,582.7 L393.9,580.9 L394.3,579.1 L394.7,577.3 L395.1,575.5 L395.6,573.7 L396.0,571.9 L396.4,570.1 L396.9,568.3 L397.3,566.5 L397.8,564.7 L398.3,562.9 L398.7,561.1 L399.2,559.4 L399.7,557.6 L400.2,555.8 L400.7,554.0 L401.2,552.2 L401.7,550.5 L402.2,548.7 L402.7,546.9 L403.2,545.1 L403.8,543.4 L404.3,541.6 L404.9,539.9 L405.4,538.1 L406.0,536.4 L406.6,534.6 L407.1,532.9 L407.7,531.1 L408.3,529.4 L408.9,527.7 L409.5,525.9 L410.1,524.2 L410.8,522.5 L411.4,520.8 L412.0,519.0 L412.7,517.3 L413.4,515.6 L414.0,513.9 L414.7,512.2 L415.4,510.6 L416.1,508.9 L416.8,507.2 L417.5,505.5 L418.2,503.9 L419.0,502.2 L419.7,500.5 L420.5,498.9 L421.2,497.3 L422.0,495.6 L422.8,494.0 L423.6,492.4 L424.4,490.7 L425.2,489.1 L426.1,487.5 L426.9,485.9 L427.7,484.3 L428.6,482.8 L429.5,481.2 L430.4,479.6 L431.3,478.1 L432.2,476.5 L433.1,475.0 L434.0,473.4 L435.0,471.9 L435.9,470.4 L436.9,468.9 L437.9,467.3 L438.9,465.8 L439.9,464.4 L440.9,462.9 L441.9,461.4 L443.0,459.9 L444.0,458.5 L445.1,457.0 L446.2,455.6 L447.3,454.2 L448.4,452.8 L449.5,451.4 L450.7,450.0 L451.8,448.6 L453.0,447.2 L454.1,445.8 L455.3,444.5 L456.6,443.1 L457.8,441.8 L459.0,440.5 L460.3,439.1 L461.5,437.8 L462.8,436.5 L464.1,435.2 L465.4,434.0 L466.7,432.7 L468.1,431.4 L469.4,430.2 L470.8,429.0 L472.1,427.7 L473.5,426.5 L474.9,425.3 L476.3,424.1 L477.7,422.9 L479.1,421.8 L480.5,420.6 L482.0,419.4 L483.4,418.3 L484.9,417.1 L486.4,416.0 L487.8,414.9 L489.3,413.8 L490.8,412.7 L492.3,411.6 L493.8,410.5 L495.3,409.4 L496.9,408.3 L498.4,407.3 L499.9,406.2 L501.5,405.2 L503.0,404.2 L504.6,403.1 L506.1,402.1 L507.7,401.1 L509.2,400.1 L510.8,399.1 L512.4,398.1 L514.0,397.2 L515.5,396.2 L517.1,395.2 L518.7,394.3 L520.3,393.3 L521.9,392.4 L523.5,391.5 L525.1,390.6 L526.7,389.7 L528.3,388.8 L530.0,387.9 L531.6,387.0 L533.2,386.1 L534.8,385.2 L536.5,384.4 L538.1,383.5 L539.7,382.7 L541.4,381.8 L543.0,381.0 L544.6,380.1 L546.3,379.3 L547.9,378.5 L549.6,377.7 L551.3,376.9 L552.9,376.1 L554.6,375.3 L556.2,374.6 L557.9,373.8 L559.6,373.0 L561.3,372.3 L562.9,371.5 L564.6,370.8 L566.3,370.0 L568.0,369.3 L569.7,368.6 L571.3,367.9 L573.0,367.2 L574.7,366.4 L576.4,365.8 L578.1,365.1 L579.8,364.4 L581.5,363.7 L583.2,363.0 L584.9,362.4 L586.6,361.7 L588.3,361.0 L590.1,360.4 L591.8,359.7 L593.5,359.1 L595.2,358.5 L596.9,357.9 L598.6,357.2 L600.4,356.6 L602.1,356.0 L603.8,355.4 L605.6,354.8 L607.3,354.2 L609.0,353.6 L610.7,353.1 L612.5,352.5 L614.2,351.9 L616.0,351.3 L617.7,350.8 L619.4,350.2 L621.2,349.7 L622.9,349.1 L624.7,348.6 L626.4,348.1 L628.2,347.5 L629.9,347.0 L631.7,346.5 L633.5,346.0 L635.2,345.5 L637.0,345.0 L638.7,344.5 L640.5,344.0 L642.3,343.5 L644.0,343.0 L645.8,342.5 L647.6,342.0 L649.3,341.6 L651.1,341.1 L652.9,340.6 L654.6,340.2 L656.4,339.7 L658.2,339.3 L660.0,338.8 L661.7,338.4 L663.5,338.0 L665.3,337.5 L667.1,337.1 L668.9,336.7 L670.6,336.3 L672.4,335.8 L674.2,335.4 L676.0,335.0 L677.8,334.6 L679.6,334.2 L681.4,333.8 L683.1,333.4 L684.9,333.0 L686.7,332.6 L688.5,332.2 L690.3,331.9 L692.1,331.5 L693.9,331.1 L695.7,330.7 L697.5,330.4 L699.3,330.0 L701.1,329.7 L702.9,329.3 L704.7,328.9 L706.5,328.6 L708.3,328.2 L710.1,327.9 L711.9,327.6 L713.7,327.2 L715.5,326.9 L717.3,326.5 L719.1,326.2 L720.9,325.9 L722.7,325.6 L724.5,325.2 L726.3,324.9 L728.1,324.6 L729.9,324.3 L731.7,324.0 L733.5,323.7 L735.3,323.3 L737.1,323.0 L738.9,322.7 L740.7,322.4 L742.5,322.1 L744.3,321.8 L746.1,321.5 L747.9,321.3 L749.8,321.0 L751.6,320.7 L753.4,320.4 L755.2,320.1 L757.0,319.8 L758.8,319.6 L760.6,319.3 L762.4,319.0 L764.2,318.7 L766.0,318.5 L767.8,318.2 L769.7,317.9 L771.5,317.7 L773.3,317.4 L775.1,317.2 L776.9,316.9 L778.7,316.7 L780.5,316.4 L782.3,316.2 L784.2,315.9 L786.0,315.7 L787.8,315.4 L789.6,315.2 L791.4,314.9 L793.2,314.7 L795.0,314.5 L796.9,314.2 L798.7,314.0 L800.5,313.8 L802.3,313.5 L804.1,313.3 L805.9,313.1 L807.7,312.9 L809.6,312.7 L811.4,312.4 L813.2,312.2 L815.0,312.0 L816.8,311.8 L818.6,311.6 L820.5,311.4 L822.3,311.2 L824.1,311.0 L825.9,310.8 L827.7,310.6 L829.6,310.4 L831.4,310.2 L833.2,310.0 L835.0,309.8 L836.8,309.6 L838.7,309.4 L840.5,309.2 L842.3,309.0 L844.1,308.8 L845.9,308.6 L847.8,308.4 L849.6,308.3 L851.4,308.1 L853.2,307.9 L855.0,307.7 L856.9,307.5 L858.7,307.4 L860.5,307.2 L862.3,307.0 L864.2,306.9 L866.0,306.7 L867.8,306.5 L869.6,306.3 L871.4,306.2 L873.3,306.0 L875.1,305.9 L876.9,305.7 L878.7,305.5 L880.6,305.4 L882.4,305.2 L884.2,305.1 L886.0,304.9 L887.9,304.7 L889.7,304.6 L891.5,304.4 L893.3,304.3 L895.2,304.1 L897.0,304.0 L898.8,303.8 L900.6,303.7 L902.5,303.6 L904.3,303.4 L906.1,303.3 L908.0,303.1 L909.8,303.0 L911.6,302.8 L913.4,302.7 L915.3,302.6 L917.1,302.4 L918.9,302.3 L920.7,302.2 L922.6,302.0 L924.4,301.9 L926.2,301.8 L928.1,301.6 L929.9,301.5 L931.7,301.4 L933.5,301.2 L935.4,301.1 L937.2,301.0 L939.0,300.9 L940.9,300.7 L942.7,300.6 L944.5,300.5 L946.3,300.4 L948.2,300.2 L950.0,300.1 L951.8,300.0 L953.7,299.9 L955.5,299.7 L957.3,299.6 L959.1,299.5 L961.0,299.4 L962.8,299.3 L964.6,299.1 L966.5,299.0 L968.3,298.9 L970.1,298.8 L972.0,298.7 L973.8,298.6 L975.6,298.5 L977.5,298.3 L979.3,298.2 L981.1,298.1 L982.9,298.0 L984.8,297.9 L986.6,297.8 L988.4,297.7 L990.3,297.6 L992.1,297.4 L993.9,297.3 L995.8,297.2 L997.6,297.1 L999.4,297.0 L1001.3,296.9 L1003.1,296.8 L1004.9,296.7 L1006.7,296.6 L1008.6,296.5 L1010.4,296.3 L1012.2,296.2 L1014.1,296.1 L1015.9,296.0 L1017.7,295.9 L1019.6,295.8 L1021.4,295.7 L1023.2,295.6 L1025.1,295.5 L1026.9,295.4 L1028.7,295.3 L1030.6,295.2 L1032.4,295.0 L1034.2,294.9 L1036.1,294.8 L1037.9,294.7 L1039.7,294.6 L1041.5,294.5 L1043.4,294.4 L1045.2,294.3 L1047.0,294.2 L1048.9,294.1 L1050.7,294.0 L1052.5,293.9 L1054.4,293.8 L1056.2,293.6 L1058.0,293.5 L1059.9,293.4 L1061.7,293.3 L1063.5,293.2 L1065.4,293.1 L1067.2,293.0 L1069.0,292.9 L1070.9,292.8 L1072.7,292.7 L1074.5,292.5 L1076.3,292.4 L1078.2,292.3 L1080.0,292.2 L1081.8,292.1 L1083.7,292.0 L1085.5,291.9 L1087.3,291.7 L1089.2,291.6 L1091.0,291.5 L1092.8,291.4 L1094.7,291.3 L1096.5,291.2 L1098.3,291.0 L1100.1,290.9 L1102.0,290.8 L1103.8,290.7 L1105.6,290.6 L1107.5,290.4 L1109.3,290.3 L1111.1,290.2 L1113.0,290.1 L1114.8,290.0 L1116.6,289.8 L1118.5,289.7 L1120.3,289.6 L1122.1,289.5 L1123.9,289.3 L1125.8,289.2 L1127.6,289.1 L1129.4,288.9 L1131.3,288.8 L1133.1,288.7 L1134.9,288.6 L1136.7,288.4 L1138.6,288.3 L1140.4,288.2 L1142.2,288.0 L1144.1,287.9 L1145.9,287.7 L1147.7,287.6 L1149.5,287.5 L1151.4,287.3 L1153.2,287.2 L1155.0,287.1 L1156.9,286.9 L1158.7,286.8 L1160.5,286.6 L1162.3,286.5 L1164.2,286.3 L1166.0,286.2 L1167.8,286.1 L1169.7,285.9 L1171.5,285.8 L1173.3,285.6 L1175.1,285.5 L1177.0,285.3 L1178.8,285.2 L1180.6,285.0 L1182.4,284.9 L1184.3,284.7 L1186.1,284.6 L1187.9,284.4 L1189.8,284.3 L1191.6,284.1 L1193.4,283.9 L1195.2,283.8 L1197.1,283.6 L1198.9,283.5 L1200.7,283.3 L1202.5,283.2 L1204.4,283.0 L1206.2,282.8 L1208.0,282.7 L1209.8,282.5 L1211.7,282.4 L1213.5,282.2 L1215.3,282.0 L1217.1,281.9 L1219.0,281.7 L1220.8,281.5 L1222.6,281.4 L1224.4,281.2 L1226.3,281.0 L1228.1,280.9 L1229.9,280.7 L1231.7,280.5 L1233.6,280.4 L1235.4,280.2 L1237.2,280.0 L1239.0,279.8 L1240.9,279.7 L1242.7,279.5 L1244.5,279.3 L1246.3,279.1 L1248.2,279.0 L1250.0,278.8 L1251.8,278.6 L1253.6,278.4 L1255.5,278.3 L1257.3,278.1 L1259.1,277.9 L1260.9,277.7 L1262.8,277.6 L1264.6,277.4 L1266.4,277.2 L1268.2,277.0 L1270.0,276.8 L1271.9,276.6 L1273.7,276.5 L1275.5,276.3 L1277.3,276.1 L1279.2,275.9 L1281.0,275.7 L1282.8,275.5 L1284.6,275.3 L1286.5,275.2 L1288.3,275.0 L1290.1,274.8 L1291.9,274.6 L1293.7,274.4 L1295.6,274.2 L1297.4,274.0 L1299.2,273.8 L1301.0,273.6 L1302.9,273.4 L1304.7,273.2 L1306.5,273.0 L1308.3,272.9 L1310.1,272.7 L1312.0,272.5 L1313.8,272.3 L1315.6,272.1 L1317.4,271.9 L1319.3,271.7 L1321.1,271.5 L1322.9,271.3 L1324.7,271.1 L1326.5,270.9 L1328.4,270.7 L1330.2,270.5 L1332.0,270.3 L1333.8,270.1 L1335.6,269.9 L1337.5,269.7 L1339.3,269.5 L1341.1,269.3 L1342.9,269.0 L1344.8,268.8 L1346.6,268.6 L1348.4,268.4 L1350.2,268.2 L1352.0,268.0 L1353.9,267.8 L1355.7,267.6 L1357.5,267.4 L1359.3,267.2 L1361.1,267.0 L1363.0,266.8 L1364.8,266.5 L1366.6,266.3 L1368.4,266.1 L1370.2,265.9 L1372.1,265.7 L1373.9,265.5 L1375.7,265.3 L1377.5,265.1 L1379.3,264.8 L1381.2,264.6 L1383.0,264.4 L1384.8,264.2 L1386.6,264.0 L1388.4,263.8 L1390.3,263.5 L1392.1,263.3 L1393.9,263.1 L1395.7,262.9 L1397.5,262.7 L1399.3,262.4 L1401.2,262.2 L1403.0,262.0 L1404.8,261.8 L1406.6,261.6 L1408.4,261.3 L1410.3,261.1 L1412.1,260.9 L1413.9,260.7 L1415.7,260.4 L1417.5,260.2 L1419.4,260.0 L1421.2,259.8 L1423.0,259.5 L1424.8,259.3 L1426.6,259.1 L1428.4,258.9 L1430.3,258.6 L1432.1,258.4 L1433.9,258.2 L1435.7,257.9 L1437.5,257.7 L1439.4,257.5 L1441.2,257.3 L1443.0,257.0 L1444.8,256.8 L1446.6,256.6 L1448.4,256.3 L1450.3,256.1 L1452.1,255.9 L1453.9,255.6 L1455.7,255.4 L1457.5,255.2 L1459.4,254.9 L1461.2,254.7 L1463.0,254.5 L1464.8,254.2 L1466.6,254.0 L1468.4,253.8 L1470.3,253.5 L1472.1,253.3 L1473.9,253.0 L1475.7,252.8 L1477.5,252.6 L1479.3,252.3 L1481.2,252.1 L1483.0,251.9 L1484.8,251.6 L1486.6,251.4 L1488.4,251.1 L1490.2,250.9 L1492.1,250.7 L1493.9,250.4 L1495.7,250.2 L1497.5,249.9 L1499.3,249.7 L1501.1,249.5 L1503.0,249.2 L1504.8,249.0 L1506.6,248.7 L1508.4,248.5 L1510.2,248.2 L1512.0,248.0 L1513.9,247.7 L1515.7,247.5 L1517.5,247.3 L1519.3,247.0 L1521.1,246.8 L1522.9,246.5 L1524.8,246.3 L1526.6,246.0 L1528.4,245.8 L1530.2,245.5 L1532.0,245.3 L1533.8,245.0 L1535.7,244.8 L1537.5,244.5 L1539.3,244.3 L1541.1,244.0 L1542.9,243.8 L1544.7,243.5 L1546.6,243.3 L1548.4,243.0 L1550.2,242.8 L1552.0,242.5 L1553.8,242.3 L1555.6,242.0 L1557.4,241.8 L1559.3,241.5 L1561.1,241.3 L1562.9,241.0 L1564.7,240.8 L1566.5,240.5 L1568.3,240.3 L1570.2,240.0 L1572.0,239.8 L1573.8,239.5 L1575.6,239.3 L1577.4,239.0 L1579.2,238.8 L1581.0,238.5 L1582.9,238.2 L1584.7,238.0 L1586.5,237.7 L1588.3,237.5 L1590.1,237.2 L1591.9,237.0 L1593.8,236.7 L1595.6,236.5 L1597.4,236.2 L1599.2,235.9 L1601.0,235.7 L1602.8,235.4 L1604.6,235.2 L1606.5,234.9 L1608.3,234.6 L1610.1,234.4 L1611.9,234.1 L1613.7,233.9 L1615.5,233.6 L1617.3,233.4 L1619.2,233.1 L1621.0,232.8 L1622.8,232.6 L1624.6,232.3 L1626.4,232.1 L1628.2,231.8 L1630.0,231.5 L1631.9,231.3 L1633.7,231.0 L1635.5,230.8 L1637.3,230.5 L1639.1,230.2 L1640.9,230.0 L1642.8,229.7 L1644.6,229.4 L1646.4,229.2 L1648.2,228.9 L1650.0,228.7 L1651.8,228.4 L1653.6,228.1 L1655.5,227.9 L1657.3,227.6 L1659.1,227.3 L1660.9,227.1 L1662.7,226.8 L1664.5,226.6 L1666.3,226.3 L1668.2,226.0 L1670.0,225.8 L1671.8,225.5 L1673.6,225.2 L1675.4,225.0 L1677.2,224.7 L1679.0,224.4 L1680.9,224.2 L1682.7,223.9 L1684.5,223.7 L1686.3,223.4 L1688.1,223.1 L1689.9,222.9 L1691.7,222.6 L1693.5,222.3 L1695.4,222.1 L1697.2,221.8 L1699.0,221.5 L1700.8,221.3 L1702.6,221.0 L1704.4,220.7 L1706.2,220.5 L1708.1,220.2 L1709.9,219.9 L1711.7,219.7 L1713.5,219.4 L1715.3,219.1 L1717.1,218.9 L1718.9,218.6 L1720.8,218.3 L1722.6,218.1 L1724.4,217.8 L1726.2,217.5 L1728.0,217.3 L1729.8,217.0 L1731.6,216.7 L1733.5,216.5 L1735.3,216.2 L1737.1,215.9 L1738.9,215.7 L1740.7,215.4 L1742.5,215.1 L1744.3,214.9 L1746.2,214.6 L1748.0,214.3 L1749.8,214.1 L1751.6,213.8 L1753.4,213.5 L1755.2,213.3 L1757.0,213.0 L1758.9,212.7 L1760.7,212.5 L1762.5,212.2 L1764.3,211.9 L1766.1,211.7 L1767.9,211.4 L1769.7,211.1 L1771.5,210.9 L1773.4,210.6 L1775.2,210.3 L1777.0,210.0 L1778.8,209.8 L1780.6,209.5 L1782.4,209.2 L1784.2,209.0 L1786.1,208.7 L1787.9,208.4 L1789.7,208.2 L1791.5,207.9 L1793.3,207.6 L1795.1,207.4 L1796.9,207.1 L1798.8,206.8 L1800.6,206.6 L1802.4,206.3 L1804.2,206.0 L1806.0,205.8 L1807.8,205.5 L1809.6,205.2 L1811.5,205.0 L1813.3,204.7 L1815.1,204.4 L1816.9,204.2 L1818.7,203.9 L1820.5,203.6 L1822.3,203.4 L1824.1,203.1 L1826.0,202.8 L1827.8,202.6 L1829.6,202.3 L1831.4,202.0 L1833.2,201.8 L1835.0,201.5 L1836.8,201.2 L1838.7,201.0 L1840.5,200.7 L1842.3,200.4 L1844.1,200.2 L1845.9,199.9 L1847.7,199.6 L1849.5,199.4 L1851.4,199.1 L1853.2,198.8 L1855.0,198.6 L1856.8,198.3 L1858.6,198.0 L1860.4,197.8 L1862.2,197.5 L1864.1,197.2 L1865.9,197.0 L1867.7,196.7 L1869.5,196.4 L1871.3,196.2 L1873.1,195.9 L1874.9,195.6 L1876.8,195.4 L1878.6,195.1 L1880.4,194.8 L1882.2,194.6 L1884.0,194.3 L1885.8,194.1 L1887.6,193.8 L1889.5,193.5 L1891.3,193.3 L1893.1,193.0 L1894.9,192.7 L1896.7,192.5 L1898.5,192.2 L1900.3,191.9 L1902.2,191.7 L1904.0,191.4 L1905.8,191.2 L1907.6,190.9 L1909.4,190.6 L1911.2,190.4 L1913.0,190.1 L1914.9,189.8 L1916.7,189.6 L1918.5,189.3 L1920.3,189.1 L1922.1,188.8 L1923.9,188.5 L1925.7,188.3 L1927.6,188.0 L1929.4,187.8 L1931.2,187.5 L1933.0,187.2 L1934.8,187.0 L1936.6,186.7 L1938.4,186.5 L1940.3,186.2 L1942.1,185.9 L1943.9,185.7 L1945.7,185.4 L1947.5,185.2 L1949.3,184.9 L1951.1,184.6 L1953.0,184.4 L1954.8,184.1 L1956.6,183.9 L1958.4,183.6 L1960.2,183.4 L1962.0,183.1 L1963.9,182.8 L1965.7,182.6 L1967.5,182.3 L1969.3,182.1 L1971.1,181.8 L1972.9,181.6 L1974.7,181.3 L1976.6,181.1 L1978.4,180.8 L1980.2,180.5 L1982.0,180.3 L1983.8,180.0 L1985.6,179.8 L1987.5,179.5 L1989.3,179.3 L1991.1,179.0 L1992.9,178.8 L1994.7,178.5 L1996.5,178.3 L1998.3,178.0 L2000.2,177.8 L2002.0,177.5 L2003.8,177.3 L2005.6,177.0 L2007.4,176.8 L2009.2,176.5 L2011.1,176.2 L2012.9,176.0 L2014.7,175.7 L2016.5,175.5 L2018.3,175.3 L2020.1,175.0 L2022.0,174.8 L2023.8,174.5 L2025.6,174.3 L2027.4,174.0 L2029.2,173.8 L2031.0,173.5 L2032.8,173.3 L2034.7,173.0 L2036.5,172.8 L2038.3,172.5 L2040.1,172.3 L2041.9,172.0 L2043.7,171.8 L2045.6,171.5 L2047.4,171.3 L2049.2,171.1 L2051.0,170.8 L2052.8,170.6 L2054.6,170.3 L2056.5,170.1 L2058.3,169.8 L2060.1,169.6 L2061.9,169.4 L2063.7,169.1 L2065.5,168.9 L2067.4,168.6 L2069.2,168.4 L2071.0,168.2 L2072.8,167.9 L2074.6,167.7 L2076.4,167.4 L2078.3,167.2 L2080.1,167.0 L2081.9,166.7 L2083.7,166.5 L2085.5,166.2 L2087.4,166.0 L2089.2,165.8 L2091.0,165.5 L2092.8,165.3 L2094.6,165.1 L2096.4,164.8 L2098.3,164.6 L2100.1,164.4 L2101.9,164.1 L2103.7,163.9 L2105.5,163.7 L2107.3,163.4 L2109.2,163.2 L2111.0,163.0 L2112.8,162.7 L2114.6,162.5 L2116.4,162.3 L2118.3,162.0 L2120.1,161.8 L2121.9,161.6 L2123.7,161.4 L2125.5,161.1 L2127.3,160.9 L2129.2,160.7 L2131.0,160.4 L2132.8,160.2 L2134.6,160.0 L2136.4,159.8 L2138.3,159.5 L2140.1,159.3 L2141.9,159.1 L2143.7,158.9 L2145.5,158.6 L2147.4,158.4 L2149.2,158.2 L2151.0,158.0 L2152.8,157.7 L2154.6,157.5 L2156.4,157.3 L2158.3,157.1 L2160.1,156.9 L2161.9,156.6 L2163.7,156.4 L2165.5,156.2 L2167.4,156.0 L2169.2,155.8 L2171.0,155.5 L2172.8,155.3 L2174.6,155.1 L2176.5,154.9 L2178.3,154.7 L2180.1,154.5 L2181.9,154.2 L2183.7,154.0 L2185.6,153.8 L2187.4,153.6 L2189.2,153.4 L2191.0,153.2 L2192.8,153.0 L2194.7,152.8 L2196.5,152.5 L2198.3,152.3 L2200.1,152.1 L2201.9,151.9 L2203.8,151.7 L2205.6,151.5 L2207.4,151.3 L2209.2,151.1 L2211.0,150.9 L2212.9,150.7 L2214.7,150.5 L2216.5,150.3 L2218.3,150.1 L2220.2,149.8 L2222.0,149.6 L2223.8,149.4 L2225.6,149.2 L2227.4,149.0 L2229.3,148.8 L2231.1,148.6 L2232.9,148.4 L2234.7,148.2 L2236.5,148.0 L2238.4,147.8 L2240.2,147.6 L2242.0,147.4 L2243.8,147.2 L2245.7,147.0 L2247.5,146.8 L2249.3,146.6 L2251.1,146.5 L2252.9,146.3 L2254.8,146.1 L2256.6,145.9 L2258.4,145.7 L2260.2,145.5 L2262.1,145.3 L2263.9,145.1 L2265.7,144.9 L2267.5,144.7 L2269.3,144.5 L2271.2,144.3 L2273.0,144.2" stroke="#C00000" stroke-dasharray="0.00 0.56 9.40 7.98 9.40 7.98 9.40 7.98 9.40 7.98 9.40 7.98 9.40 7.98 9.40 7.98 9.40 7.98 9.40 7.98 9.40 7.98 9.40 7.98 9.40 7.98 9.40 7.99 9.40 7.99 9.40 7.99 9.40 7.99 9.40 7.99 9.40 7.99 9.40 7.99 9.40 7.99 9.40 7.99 9.40 7.99 9.40 7.99 9.40 7.99 9.40 7.98 9.40 7.98 9.40 7.98 9.40 7.98 9.40 7.98 9.40 7.98 9.40 7.98 9.40 7.98 9.40 7.98 9.40 7.98 9.40 7.98 9.40 8.09 9.40 8.10 9.40 8.10 9.40 8.10 9.40 8.10 9.40 8.10 9.40 8.10 9.40 8.10 9.40 8.10 9.40 8.10 9.40 8.10 9.40 8.09 9.40 7.98 9.40 7.98 9.40 7.98 9.40 7.98 9.40 7.98 9.40 7.98 9.40 7.98 9.40 7.98 9.40 7.98 9.40 7.98 9.40 7.98 9.40 7.98 9.40 7.98 9.40 7.98 9.40 7.98 9.40 7.98 9.40 8.01 9.40 8.04 9.40 8.04 9.40 8.04 9.40 8.04 9.40 8.04 9.40 8.04 9.40 8.04 9.40 8.04 9.40 8.04 9.40 8.04 9.40 8.04 9.40 8.04 9.40 8.04 9.40 8.04 9.40 8.04 9.40 8.04 9.40 8.04 9.40 8.04 9.40 8.04 9.40 8.04 9.40 8.04 9.40 8.04 9.40 8.04 9.40 8.04 9.40 8.04 9.40 8.04 9.40 8.04 9.40 8.04 9.40 8.04 9.40 8.04 9.40 8.04 9.40 8.04 9.40 8.04 9.40 8.04 9.40 8.04 9.40 8.04 9.40 8.04 9.40 8.04 9.40 8.04 9.40 8.04 9.40 8.06 9.40 8.08 9.40 8.08 9.40 8.08 9.40 8.08 9.40 8.08 9.40 8.08 9.40 8.08 9.40 8.08 9.40 8.08 9.40 8.08 9.40 8.08 9.40 8.08 9.40 8.08 9.40 8.08 9.40 8.08 9.40 8.08 9.40 8.08 9.40 8.08 9.40 8.08 9.40 8.08 9.40 8.08 9.40 8.07 9.40 8.06 9.40 8.06 9.40 8.06 9.40 8.06 9.40 8.06 9.40 8.06 9.40 8.06 9.40 8.06 9.40 8.06 9.40 8.06 9.40 8.06 9.40 8.06 9.40 8.06 9.40 8.06 9.40 8.06 9.40 8.06 9.40 8.06 9.40 8.06 9.40 8.06 9.40 8.06 9.40 8.06 9.40 8.00 9.40 7.95 9.40 7.95 9.40 7.95 9.40 7.95 9.40 7.95 9.40 7.95 9.40 7.95 9.40 7.95 9.40 50.91"/>
<path d="M351.9,1313.9 L352.0,1312.1 L352.0,1310.3 L352.0,1308.5 L352.1,1306.7 L352.1,1304.9 L352.2,1303.1 L352.2,1301.3 L352.2,1299.4 L352.3,1297.6 L352.3,1295.8 L352.4,1294.0 L352.4,1292.2 L352.5,1290.4 L352.5,1288.6 L352.5,1286.8 L352.6,1285.0 L352.6,1283.2 L352.7,1281.4 L352.7,1279.6 L352.8,1277.7 L352.8,1275.9 L352.9,1274.1 L352.9,1272.3 L352.9,1270.5 L353.0,1268.7 L353.0,1266.9 L353.1,1265.1 L353.1,1263.3 L353.2,1261.5 L353.2,1259.6 L353.3,1257.8 L353.3,1256.0 L353.4,1254.2 L353.4,1252.4 L353.5,1250.6 L353.5,1248.8 L353.6,1247.0 L353.6,1245.2 L353.7,1243.3 L353.7,1241.5 L353.8,1239.7 L353.9,1237.9 L353.9,1236.1 L354.0,1234.3 L354.0,1232.5 L354.1,1230.7 L354.1,1228.8 L354.2,1227.0 L354.2,1225.2 L354.3,1223.4 L354.4,1221.6 L354.4,1219.8 L354.5,1218.0 L354.5,1216.2 L354.6,1214.3 L354.6,1212.5 L354.7,1210.7 L354.8,1208.9 L354.8,1207.1 L354.9,1205.3 L355.0,1203.5 L355.0,1201.6 L355.1,1199.8 L355.1,1198.0 L355.2,1196.2 L355.3,1194.4 L355.3,1192.6 L355.4,1190.8 L355.5,1188.9 L355.5,1187.1 L355.6,1185.3 L355.7,1183.5 L355.7,1181.7 L355.8,1179.9 L355.9,1178.0 L355.9,1176.2 L356.0,1174.4 L356.1,1172.6 L356.1,1170.8 L356.2,1169.0 L356.3,1167.1 L356.4,1165.3 L356.4,1163.5 L356.5,1161.7 L356.6,1159.9 L356.7,1158.1 L356.7,1156.3 L356.8,1154.4 L356.9,1152.6 L357.0,1150.8 L357.0,1149.0 L357.1,1147.2 L357.2,1145.4 L357.3,1143.5 L357.3,1141.7 L357.4,1139.9 L357.5,1138.1 L357.6,1136.3 L357.7,1134.5 L357.7,1132.6 L357.8,1130.8 L357.9,1129.0 L358.0,1127.2 L358.1,1125.4 L358.2,1123.6 L358.2,1121.7 L358.3,1119.9 L358.4,1118.1 L358.5,1116.3 L358.6,1114.5 L358.7,1112.6 L358.8,1110.8 L358.9,1109.0 L358.9,1107.2 L359.0,1105.4 L359.1,1103.6 L359.2,1101.7 L359.3,1099.9 L359.4,1098.1 L359.5,1096.3 L359.6,1094.5 L359.7,1092.7 L359.8,1090.8 L359.9,1089.0 L360.0,1087.2 L360.1,1085.4 L360.1,1083.6 L360.2,1081.8 L360.3,1079.9 L360.4,1078.1 L360.5,1076.3 L360.6,1074.5 L360.7,1072.7 L360.8,1070.9 L360.9,1069.0 L361.0,1067.2 L361.1,1065.4 L361.3,1063.6 L361.4,1061.8 L361.5,1059.9 L361.6,1058.1 L361.7,1056.3 L361.8,1054.5 L361.9,1052.7 L362.0,1050.9 L362.1,1049.0 L362.2,1047.2 L362.3,1045.4 L362.4,1043.6 L362.5,1041.8 L362.7,1040.0 L362.8,1038.1 L362.9,1036.3 L363.0,1034.5 L363.1,1032.7 L363.2,1030.9 L363.3,1029.1 L363.5,1027.2 L363.6,1025.4 L363.7,1023.6 L363.8,1021.8 L363.9,1020.0 L364.0,1018.2 L364.2,1016.4 L364.3,1014.5 L364.4,1012.7 L364.5,1010.9 L364.7,1009.1 L364.8,1007.3 L364.9,1005.5 L365.0,1003.6 L365.2,1001.8 L365.3,1000.0 L365.4,998.2 L365.5,996.4 L365.7,994.6 L365.8,992.8 L365.9,990.9 L366.1,989.1 L366.2,987.3 L366.3,985.5 L366.4,983.7 L366.6,981.9 L366.7,980.0 L366.9,978.2 L367.0,976.4 L367.1,974.6 L367.3,972.8 L367.4,971.0 L367.5,969.2 L367.7,967.3 L367.8,965.5 L368.0,963.7 L368.1,961.9 L368.2,960.1 L368.4,958.3 L368.5,956.5 L368.7,954.7 L368.8,952.8 L369.0,951.0 L369.1,949.2 L369.3,947.4 L369.4,945.6 L369.6,943.8 L369.7,942.0 L369.9,940.2 L370.0,938.3 L370.2,936.5 L370.3,934.7 L370.5,932.9 L370.6,931.1 L370.8,929.3 L370.9,927.5 L371.1,925.7 L371.3,923.9 L371.4,922.0 L371.6,920.2 L371.7,918.4 L371.9,916.6 L372.1,914.8 L372.2,913.0 L372.4,911.2 L372.5,909.4 L372.7,907.6 L372.9,905.8 L373.0,903.9 L373.2,902.1 L373.4,900.3 L373.5,898.5 L373.7,896.7 L373.9,894.9 L374.1,893.1 L374.2,891.3 L374.4,889.5 L374.6,887.7 L374.8,885.9 L374.9,884.1 L375.1,882.2 L375.3,880.4 L375.5,878.6 L375.6,876.8 L375.8,875.0 L376.0,873.2 L376.2,871.4 L376.4,869.6 L376.5,867.8 L376.7,866.0 L376.9,864.2 L377.1,862.4 L377.3,860.6 L377.5,858.8 L377.7,857.0 L377.9,855.2 L378.0,853.4 L378.2,851.6 L378.4,849.8 L378.6,847.9 L378.8,846.1 L379.0,844.3 L379.2,842.5 L379.4,840.7 L379.6,838.9 L379.8,837.1 L380.0,835.3 L380.2,833.5 L380.4,831.7 L380.6,829.9 L380.8,828.1 L381.0,826.3 L381.2,824.5 L381.4,822.7 L381.6,820.9 L381.8,819.1 L382.0,817.3 L382.3,815.5 L382.5,813.7 L382.7,811.9 L382.9,810.1 L383.1,808.3 L383.3,806.5 L383.5,804.7 L383.8,802.9 L384.0,801.1 L384.2,799.3 L384.4,797.5 L384.6,795.7 L384.8,793.9 L385.1,792.1 L385.3,790.4 L385.5,788.6 L385.7,786.8 L386.0,785.0 L386.2,783.2 L386.4,781.4 L386.6,779.6 L386.9,777.8 L387.1,776.0 L387.3,774.2 L387.6,772.4 L387.8,770.6 L388.0,768.8 L388.3,767.0 L388.5,765.2 L388.7,763.4 L389.0,761.6 L389.2,759.9 L389.5,758.1 L389.7,756.3 L389.9,754.5 L390.2,752.7 L390.4,750.9 L390.7,749.1 L390.9,747.3 L391.2,745.5 L391.4,743.7 L391.7,742.0 L391.9,740.2 L392.2,738.4 L392.4,736.6 L392.7,734.8 L392.9,733.0 L393.2,731.2 L393.4,729.4 L393.7,727.7 L394.0,725.9 L394.2,724.1 L394.5,722.3 L394.7,720.5 L395.0,718.7 L395.3,716.9 L395.5,715.2 L395.8,713.4 L396.1,711.6 L396.3,709.8 L396.6,708.0 L396.9,706.2 L397.1,704.4 L397.4,702.7 L397.7,700.9 L398.0,699.1 L398.2,697.3 L398.5,695.5 L398.8,693.7 L399.1,692.0 L399.4,690.2 L399.6,688.4 L399.9,686.6 L400.2,684.8 L400.5,683.0 L400.8,681.2 L401.1,679.5 L401.3,677.7 L401.6,675.9 L401.9,674.1 L402.2,672.3 L402.5,670.5 L402.8,668.7 L403.1,666.9 L403.4,665.2 L403.7,663.4 L404.0,661.6 L404.3,659.8 L404.6,658.0 L404.9,656.2 L405.2,654.4 L405.5,652.6 L405.8,650.8 L406.1,649.0 L406.4,647.3 L406.7,645.5 L407.0,643.7 L407.3,641.9 L407.6,640.1 L407.9,638.3 L408.2,636.5 L408.6,634.7 L408.9,632.9 L409.2,631.1 L409.5,629.3 L409.8,627.5 L410.1,625.7 L410.5,623.9 L410.8,622.1 L411.1,620.3 L411.4,618.5 L411.7,616.7 L412.1,614.9 L412.4,613.1 L412.7,611.3 L413.1,609.5 L413.4,607.7 L413.7,605.8 L414.1,604.0 L414.4,602.2 L414.7,600.4 L415.1,598.6 L415.4,596.8 L415.7,595.0 L416.1,593.2 L416.4,591.4 L416.8,589.5 L417.2,587.7 L417.5,585.9 L417.9,584.1 L418.2,582.3 L418.6,580.5 L419.0,578.7 L419.4,576.9 L419.8,575.1 L420.1,573.3 L420.5,571.5 L420.9,569.7 L421.3,567.9 L421.8,566.1 L422.2,564.3 L422.6,562.5 L423.0,560.7 L423.5,559.0 L423.9,557.2 L424.3,555.4 L424.8,553.6 L425.2,551.8 L425.7,550.1 L426.2,548.3 L426.7,546.5 L427.2,544.8 L427.7,543.0 L428.2,541.2 L428.7,539.5 L429.2,537.7 L429.7,536.0 L430.3,534.3 L430.8,532.5 L431.4,530.8 L431.9,529.1 L432.5,527.3 L433.1,525.6 L433.7,523.9 L434.3,522.2 L434.9,520.5 L435.5,518.8 L436.2,517.1 L436.8,515.4 L437.5,513.7 L438.1,512.0 L438.8,510.4 L439.5,508.7 L440.2,507.0 L440.9,505.4 L441.6,503.7 L442.4,502.1 L443.1,500.4 L443.9,498.8 L444.6,497.2 L445.4,495.6 L446.2,493.9 L447.0,492.3 L447.9,490.7 L448.7,489.1 L449.6,487.6 L450.4,486.0 L451.3,484.4 L452.2,482.8 L453.1,481.3 L454.0,479.7 L454.9,478.2 L455.9,476.7 L456.8,475.1 L457.8,473.6 L458.7,472.1 L459.7,470.6 L460.7,469.1 L461.7,467.6 L462.8,466.2 L463.8,464.7 L464.8,463.2 L465.9,461.8 L467.0,460.3 L468.0,458.9 L469.1,457.5 L470.2,456.1 L471.4,454.6 L472.5,453.3 L473.6,451.9 L474.8,450.5 L475.9,449.1 L477.1,447.8 L478.3,446.4 L479.5,445.1 L480.7,443.7 L481.9,442.4 L483.1,441.1 L484.3,439.8 L485.6,438.5 L486.8,437.2 L488.1,436.0 L489.4,434.7 L490.7,433.5 L492.0,432.2 L493.3,431.0 L494.6,429.8 L495.9,428.6 L497.2,427.4 L498.6,426.2 L499.9,425.0 L501.3,423.9 L502.7,422.7 L504.1,421.6 L505.5,420.5 L506.9,419.4 L508.3,418.3 L509.7,417.2 L511.1,416.1 L512.6,415.0 L514.0,414.0 L515.5,412.9 L516.9,411.9 L518.4,410.9 L519.9,409.9 L521.4,408.9 L522.9,407.9 L524.4,407.0 L525.9,406.0 L527.4,405.1 L529.0,404.2 L530.5,403.2 L532.1,402.3 L533.6,401.5 L535.2,400.6 L536.8,399.7 L538.4,398.9 L539.9,398.0 L541.5,397.2 L543.1,396.4 L544.8,395.6 L546.4,394.8 L548.0,394.0 L549.6,393.2 L551.3,392.5 L552.9,391.7 L554.6,391.0 L556.2,390.2 L557.9,389.5 L559.5,388.8 L561.2,388.1 L562.9,387.4 L564.6,386.7 L566.3,386.1 L568.0,385.4 L569.7,384.7 L571.4,384.1 L573.1,383.4 L574.8,382.8 L576.5,382.2 L578.2,381.6 L579.9,381.0 L581.7,380.4 L583.4,379.8 L585.1,379.2 L586.9,378.6 L588.6,378.0 L590.4,377.5 L592.1,376.9 L593.9,376.3 L595.6,375.8 L597.4,375.3 L599.2,374.7 L600.9,374.2 L602.7,373.7 L604.5,373.1 L606.2,372.6 L608.0,372.1 L609.8,371.6 L611.6,371.1 L613.3,370.6 L615.1,370.1 L616.9,369.6 L618.7,369.2 L620.5,368.7 L622.2,368.2 L624.0,367.7 L625.8,367.3 L627.6,366.8 L629.4,366.3 L631.2,365.9 L633.0,365.4 L634.8,365.0 L636.5,364.5 L638.3,364.1 L640.1,363.6 L641.9,363.2 L643.7,362.7 L645.5,362.3 L647.3,361.8 L649.0,361.4 L650.8,361.0 L652.6,360.5 L654.4,360.1 L656.2,359.7 L657.9,359.2 L659.7,358.8 L661.5,358.4 L663.3,358.0 L665.1,357.5 L666.8,357.1 L668.6,356.7 L670.4,356.3 L672.2,355.9 L674.0,355.4 L675.7,355.0 L677.5,354.6 L679.3,354.2 L681.1,353.8 L682.8,353.4 L684.6,353.0 L686.4,352.6 L688.2,352.2 L689.9,351.8 L691.7,351.4 L693.5,350.9 L695.3,350.5 L697.0,350.1 L698.8,349.8 L700.6,349.4 L702.3,349.0 L704.1,348.6 L705.9,348.2 L707.7,347.8 L709.4,347.4 L711.2,347.0 L713.0,346.6 L714.7,346.2 L716.5,345.8 L718.3,345.4 L720.0,345.1 L721.8,344.7 L723.6,344.3 L725.4,343.9 L727.1,343.5 L728.9,343.1 L730.7,342.7 L732.4,342.4 L734.2,342.0 L736.0,341.6 L737.7,341.2 L739.5,340.8 L741.3,340.5 L743.0,340.1 L744.8,339.7 L746.6,339.3 L748.3,339.0 L750.1,338.6 L751.9,338.2 L753.6,337.8 L755.4,337.5 L757.2,337.1 L758.9,336.7 L760.7,336.3 L762.5,336.0 L764.2,335.6 L766.0,335.2 L767.8,334.9 L769.5,334.5 L771.3,334.1 L773.1,333.7 L774.8,333.4 L776.6,333.0 L778.3,332.6 L780.1,332.3 L781.9,331.9 L783.6,331.5 L785.4,331.2 L787.2,330.8 L788.9,330.4 L790.7,330.0 L792.5,329.7 L794.2,329.3 L796.0,328.9 L797.8,328.6 L799.5,328.2 L801.3,327.8 L803.1,327.4 L804.8,327.1 L806.6,326.7 L808.4,326.3 L810.1,326.0 L811.9,325.6 L813.7,325.2 L815.4,324.8 L817.2,324.5 L819.0,324.1 L820.8,323.7 L822.5,323.3 L824.3,323.0 L826.1,322.6 L827.8,322.2 L829.6,321.8 L831.4,321.5 L833.1,321.1 L834.9,320.7 L836.7,320.3 L838.5,320.0 L840.2,319.6 L842.0,319.2 L843.8,318.8 L845.5,318.4 L847.3,318.0 L849.1,317.7 L850.9,317.3 L852.6,316.9 L854.4,316.5 L856.2,316.1 L857.9,315.7 L859.7,315.3 L861.5,315.0 L863.3,314.6 L865.0,314.2 L866.8,313.8 L868.6,313.4 L870.4,313.0 L872.1,312.6 L873.9,312.2 L875.7,311.9 L877.5,311.5 L879.3,311.1 L881.0,310.7 L882.8,310.3 L884.6,309.9 L886.4,309.5 L888.1,309.1 L889.9,308.8 L891.7,308.4 L893.5,308.0 L895.3,307.6 L897.0,307.2 L898.8,306.8 L900.6,306.4 L902.4,306.1 L904.2,305.7 L905.9,305.3 L907.7,304.9 L909.5,304.5 L911.3,304.1 L913.1,303.8 L914.8,303.4 L916.6,303.0 L918.4,302.6 L920.2,302.3 L922.0,301.9 L923.8,301.5 L925.5,301.1 L927.3,300.8 L929.1,300.4 L930.9,300.0 L932.7,299.7 L934.5,299.3 L936.2,298.9 L938.0,298.6 L939.8,298.2 L941.6,297.8 L943.4,297.5 L945.2,297.1 L946.9,296.8 L948.7,296.4 L950.5,296.1 L952.3,295.7 L954.1,295.4 L955.9,295.0 L957.7,294.7 L959.4,294.3 L961.2,294.0 L963.0,293.6 L964.8,293.3 L966.6,293.0 L968.4,292.6 L970.2,292.3 L972.0,292.0 L973.7,291.7 L975.5,291.3 L977.3,291.0 L979.1,290.7 L980.9,290.4 L982.7,290.0 L984.5,289.7 L986.3,289.4 L988.0,289.1 L989.8,288.8 L991.6,288.5 L993.4,288.2 L995.2,287.8 L997.0,287.5 L998.8,287.2 L1000.6,286.9 L1002.4,286.6 L1004.1,286.3 L1005.9,286.0 L1007.7,285.7 L1009.5,285.4 L1011.3,285.1 L1013.1,284.8 L1014.9,284.5 L1016.7,284.2 L1018.5,283.9 L1020.3,283.6 L1022.0,283.3 L1023.8,283.0 L1025.6,282.7 L1027.4,282.4 L1029.2,282.2 L1031.0,281.9 L1032.8,281.6 L1034.6,281.3 L1036.4,281.0 L1038.2,280.7 L1039.9,280.4 L1041.7,280.1 L1043.5,279.8 L1045.3,279.5 L1047.1,279.2 L1048.9,278.9 L1050.7,278.7 L1052.5,278.4 L1054.3,278.1 L1056.0,277.8 L1057.8,277.5 L1059.6,277.2 L1061.4,276.9 L1063.2,276.6 L1065.0,276.3 L1066.8,276.0 L1068.6,275.7 L1070.4,275.4 L1072.2,275.2 L1073.9,274.9 L1075.7,274.6 L1077.5,274.3 L1079.3,274.0 L1081.1,273.7 L1082.9,273.4 L1084.7,273.1 L1086.5,272.8 L1088.3,272.5 L1090.0,272.2 L1091.8,271.9 L1093.6,271.6 L1095.4,271.3 L1097.2,270.9 L1099.0,270.6 L1100.8,270.3 L1102.6,270.0 L1104.3,269.7 L1106.1,269.4 L1107.9,269.1 L1109.7,268.8 L1111.5,268.5 L1113.3,268.2 L1115.1,267.9 L1116.9,267.5 L1118.6,267.2 L1120.4,266.9 L1122.2,266.6 L1124.0,266.3 L1125.8,266.0 L1127.6,265.7 L1129.4,265.4 L1131.2,265.0 L1132.9,264.7 L1134.7,264.4 L1136.5,264.1 L1138.3,263.8 L1140.1,263.5 L1141.9,263.1 L1143.7,262.8 L1145.5,262.5 L1147.2,262.2 L1149.0,261.9 L1150.8,261.6 L1152.6,261.2 L1154.4,260.9 L1156.2,260.6 L1158.0,260.3 L1159.7,260.0 L1161.5,259.7 L1163.3,259.3 L1165.1,259.0 L1166.9,258.7 L1168.7,258.4 L1170.5,258.1 L1172.3,257.8 L1174.1,257.5 L1175.8,257.1 L1177.6,256.8 L1179.4,256.5 L1181.2,256.2 L1183.0,255.9 L1184.8,255.6 L1186.6,255.3 L1188.4,255.0 L1190.1,254.6 L1191.9,254.3 L1193.7,254.0 L1195.5,253.7 L1197.3,253.4 L1199.1,253.1 L1200.9,252.8 L1202.7,252.5 L1204.5,252.2 L1206.2,251.9 L1208.0,251.6 L1209.8,251.3 L1211.6,251.0 L1213.4,250.7 L1215.2,250.4 L1217.0,250.1 L1218.8,249.8 L1220.6,249.5 L1222.4,249.2 L1224.2,248.9 L1225.9,248.6 L1227.7,248.3 L1229.5,248.0 L1231.3,247.7 L1233.1,247.4 L1234.9,247.1 L1236.7,246.8 L1238.5,246.5 L1240.3,246.2 L1242.1,246.0 L1243.9,245.7 L1245.7,245.4 L1247.4,245.1 L1249.2,244.8 L1251.0,244.5 L1252.8,244.3 L1254.6,244.0 L1256.4,243.7 L1258.2,243.4 L1260.0,243.1 L1261.8,242.9 L1263.6,242.6 L1265.4,242.3 L1267.2,242.0 L1269.0,241.8 L1270.8,241.5 L1272.6,241.2 L1274.4,240.9 L1276.2,240.7 L1278.0,240.4 L1279.7,240.1 L1281.5,239.9 L1283.3,239.6 L1285.1,239.3 L1286.9,239.1 L1288.7,238.8 L1290.5,238.5 L1292.3,238.3 L1294.1,238.0 L1295.9,237.7 L1297.7,237.5 L1299.5,237.2 L1301.3,236.9 L1303.1,236.7 L1304.9,236.4 L1306.7,236.2 L1308.5,235.9 L1310.3,235.6 L1312.1,235.4 L1313.9,235.1 L1315.7,234.9 L1317.5,234.6 L1319.3,234.4 L1321.1,234.1 L1322.9,233.9 L1324.7,233.6 L1326.5,233.4 L1328.3,233.1 L1330.1,232.8 L1331.9,232.6 L1333.7,232.3 L1335.5,232.1 L1337.3,231.8 L1339.1,231.6 L1340.9,231.4 L1342.6,231.1 L1344.4,230.9 L1346.2,230.6 L1348.0,230.4 L1349.8,230.1 L1351.6,229.9 L1353.4,229.6 L1355.2,229.4 L1357.0,229.1 L1358.8,228.9 L1360.6,228.7 L1362.4,228.4 L1364.2,228.2 L1366.0,227.9 L1367.8,227.7 L1369.6,227.5 L1371.4,227.2 L1373.2,227.0 L1375.0,226.7 L1376.8,226.5 L1378.6,226.3 L1380.4,226.0 L1382.2,225.8 L1384.0,225.5 L1385.8,225.3 L1387.6,225.1 L1389.4,224.8 L1391.2,224.6 L1393.0,224.4 L1394.8,224.1 L1396.6,223.9 L1398.4,223.7 L1400.2,223.4 L1402.0,223.2 L1403.8,223.0 L1405.6,222.7 L1407.5,222.5 L1409.3,222.3 L1411.1,222.0 L1412.9,221.8 L1414.7,221.6 L1416.5,221.3 L1418.3,221.1 L1420.1,220.9 L1421.9,220.7 L1423.7,220.4 L1425.5,220.2 L1427.3,220.0 L1429.1,219.7 L1430.9,219.5 L1432.7,219.3 L1434.5,219.1 L1436.3,218.8 L1438.1,218.6 L1439.9,218.4 L1441.7,218.2 L1443.5,217.9 L1445.3,217.7 L1447.1,217.5 L1448.9,217.2 L1450.7,217.0 L1452.5,216.8 L1454.3,216.6 L1456.1,216.4 L1457.9,216.1 L1459.7,215.9 L1461.5,215.7 L1463.3,215.5 L1465.1,215.2 L1466.9,215.0 L1468.7,214.8 L1470.5,214.6 L1472.3,214.3 L1474.1,214.1 L1475.9,213.9 L1477.7,213.7 L1479.5,213.5 L1481.3,213.2 L1483.1,213.0 L1484.9,212.8 L1486.7,212.6 L1488.5,212.4 L1490.3,212.2 L1492.1,211.9 L1493.9,211.7 L1495.7,211.5 L1497.5,211.3 L1499.3,211.1 L1501.1,210.8 L1502.9,210.6 L1504.7,210.4 L1506.6,210.2 L1508.4,210.0 L1510.2,209.8 L1512.0,209.6 L1513.8,209.3 L1515.6,209.1 L1517.4,208.9 L1519.2,208.7 L1521.0,208.5 L1522.8,208.3 L1524.6,208.1 L1526.4,207.8 L1528.2,207.6 L1530.0,207.4 L1531.8,207.2 L1533.6,207.0 L1535.4,206.8 L1537.2,206.6 L1539.0,206.4 L1540.8,206.2 L1542.6,205.9 L1544.4,205.7 L1546.2,205.5 L1548.0,205.3 L1549.8,205.1 L1551.6,204.9 L1553.4,204.7 L1555.2,204.5 L1557.0,204.3 L1558.8,204.1 L1560.6,203.9 L1562.5,203.7 L1564.3,203.4 L1566.1,203.2 L1567.9,203.0 L1569.7,202.8 L1571.5,202.6 L1573.3,202.4 L1575.1,202.2 L1576.9,202.0 L1578.7,201.8 L1580.5,201.6 L1582.3,201.4 L1584.1,201.2 L1585.9,201.0 L1587.7,200.8 L1589.5,200.6 L1591.3,200.4 L1593.1,200.2 L1594.9,200.0 L1596.7,199.8 L1598.5,199.6 L1600.3,199.4 L1602.1,199.2 L1603.9,199.0 L1605.8,198.8 L1607.6,198.6 L1609.4,198.4 L1611.2,198.2 L1613.0,198.0 L1614.8,197.8 L1616.6,197.6 L1618.4,197.4 L1620.2,197.2 L1622.0,197.0 L1623.8,196.8 L1625.6,196.6 L1627.4,196.4 L1629.2,196.2 L1631.0,196.0 L1632.8,195.8 L1634.6,195.6 L1636.4,195.4 L1638.2,195.2 L1640.0,195.0 L1641.8,194.8 L1643.6,194.6 L1645.5,194.4 L1647.3,194.2 L1649.1,194.0 L1650.9,193.8 L1652.7,193.6 L1654.5,193.4 L1656.3,193.2 L1658.1,193.0 L1659.9,192.9 L1661.7,192.7 L1663.5,192.5 L1665.3,192.3 L1667.1,192.1 L1668.9,191.9 L1670.7,191.7 L1672.5,191.5 L1674.3,191.3 L1676.1,191.1 L1677.9,190.9 L1679.8,190.7 L1681.6,190.5 L1683.4,190.4 L1685.2,190.2 L1687.0,190.0 L1688.8,189.8 L1690.6,189.6 L1692.4,189.4 L1694.2,189.2 L1696.0,189.0 L1697.8,188.8 L1699.6,188.7 L1701.4,188.5 L1703.2,188.3 L1705.0,188.1 L1706.8,187.9 L1708.6,187.7 L1710.5,187.5 L1712.3,187.3 L1714.1,187.2 L1715.9,187.0 L1717.7,186.8 L1719.5,186.6 L1721.3,186.4 L1723.1,186.2 L1724.9,186.0 L1726.7,185.9 L1728.5,185.7 L1730.3,185.5 L1732.1,185.3 L1733.9,185.1 L1735.7,184.9 L1737.5,184.8 L1739.3,184.6 L1741.2,184.4 L1743.0,184.2 L1744.8,184.0 L1746.6,183.8 L1748.4,183.7 L1750.2,183.5 L1752.0,183.3 L1753.8,183.1 L1755.6,182.9 L1757.4,182.7 L1759.2,182.6 L1761.0,182.4 L1762.8,182.2 L1764.6,182.0 L1766.4,181.8 L1768.3,181.7 L1770.1,181.5 L1771.9,181.3 L1773.7,181.1 L1775.5,180.9 L1777.3,180.8 L1779.1,180.6 L1780.9,180.4 L1782.7,180.2 L1784.5,180.1 L1786.3,179.9 L1788.1,179.7 L1789.9,179.5 L1791.7,179.3 L1793.5,179.2 L1795.4,179.0 L1797.2,178.8 L1799.0,178.6 L1800.8,178.5 L1802.6,178.3 L1804.4,178.1 L1806.2,177.9 L1808.0,177.8 L1809.8,177.6 L1811.6,177.4 L1813.4,177.2 L1815.2,177.1 L1817.0,176.9 L1818.8,176.7 L1820.7,176.5 L1822.5,176.4 L1824.3,176.2 L1826.1,176.0 L1827.9,175.8 L1829.7,175.7 L1831.5,175.5 L1833.3,175.3 L1835.1,175.1 L1836.9,175.0 L1838.7,174.8 L1840.5,174.6 L1842.3,174.5 L1844.2,174.3 L1846.0,174.1 L1847.8,173.9 L1849.6,173.8 L1851.4,173.6 L1853.2,173.4 L1855.0,173.3 L1856.8,173.1 L1858.6,172.9 L1860.4,172.7 L1862.2,172.6 L1864.0,172.4 L1865.8,172.2 L1867.6,172.1 L1869.5,171.9 L1871.3,171.7 L1873.1,171.6 L1874.9,171.4 L1876.7,171.2 L1878.5,171.1 L1880.3,170.9 L1882.1,170.7 L1883.9,170.5 L1885.7,170.4 L1887.5,170.2 L1889.3,170.0 L1891.2,169.9 L1893.0,169.7 L1894.8,169.5 L1896.6,169.4 L1898.4,169.2 L1900.2,169.0 L1902.0,168.9 L1903.8,168.7 L1905.6,168.5 L1907.4,168.4 L1909.2,168.2 L1911.0,168.1 L1912.8,167.9 L1914.7,167.7 L1916.5,167.6 L1918.3,167.4 L1920.1,167.2 L1921.9,167.1 L1923.7,166.9 L1925.5,166.7 L1927.3,166.6 L1929.1,166.4 L1930.9,166.2 L1932.7,166.1 L1934.5,165.9 L1936.4,165.8 L1938.2,165.6 L1940.0,165.4 L1941.8,165.3 L1943.6,165.1 L1945.4,164.9 L1947.2,164.8 L1949.0,164.6 L1950.8,164.5 L1952.6,164.3 L1954.4,164.1 L1956.2,164.0 L1958.1,163.8 L1959.9,163.6 L1961.7,163.5 L1963.5,163.3 L1965.3,163.2 L1967.1,163.0 L1968.9,162.8 L1970.7,162.7 L1972.5,162.5 L1974.3,162.4 L1976.1,162.2 L1977.9,162.0 L1979.8,161.9 L1981.6,161.7 L1983.4,161.6 L1985.2,161.4 L1987.0,161.2 L1988.8,161.1 L1990.6,160.9 L1992.4,160.8 L1994.2,160.6 L1996.0,160.5 L1997.8,160.3 L1999.7,160.1 L2001.5,160.0 L2003.3,159.8 L2005.1,159.7 L2006.9,159.5 L2008.7,159.4 L2010.5,159.2 L2012.3,159.0 L2014.1,158.9 L2015.9,158.7 L2017.7,158.6 L2019.5,158.4 L2021.4,158.3 L2023.2,158.1 L2025.0,157.9 L2026.8,157.8 L2028.6,157.6 L2030.4,157.5 L2032.2,157.3 L2034.0,157.2 L2035.8,157.0 L2037.6,156.9 L2039.4,156.7 L2041.3,156.5 L2043.1,156.4 L2044.9,156.2 L2046.7,156.1 L2048.5,155.9 L2050.3,155.8 L2052.1,155.6 L2053.9,155.5 L2055.7,155.3 L2057.5,155.2 L2059.3,155.0 L2061.2,154.8 L2063.0,154.7 L2064.8,154.5 L2066.6,154.4 L2068.4,154.2 L2070.2,154.1 L2072.0,153.9 L2073.8,153.8 L2075.6,153.6 L2077.4,153.5 L2079.2,153.3 L2081.1,153.2 L2082.9,153.0 L2084.7,152.9 L2086.5,152.7 L2088.3,152.6 L2090.1,152.4 L2091.9,152.3 L2093.7,152.1 L2095.5,152.0 L2097.3,151.8 L2099.1,151.6 L2101.0,151.5 L2102.8,151.3 L2104.6,151.2 L2106.4,151.0 L2108.2,150.9 L2110.0,150.7 L2111.8,150.6 L2113.6,150.4 L2115.4,150.3 L2117.2,150.1 L2119.1,150.0 L2120.9,149.8 L2122.7,149.7 L2124.5,149.5 L2126.3,149.4 L2128.1,149.2 L2129.9,149.1 L2131.7,148.9 L2133.5,148.8 L2135.3,148.6 L2137.1,148.5 L2139.0,148.3 L2140.8,148.2 L2142.6,148.1 L2144.4,147.9 L2146.2,147.8 L2148.0,147.6 L2149.8,147.5 L2151.6,147.3 L2153.4,147.2 L2155.2,147.0 L2157.0,146.9 L2158.9,146.7 L2160.7,146.6 L2162.5,146.4 L2164.3,146.3 L2166.1,146.1 L2167.9,146.0 L2169.7,145.8 L2171.5,145.7 L2173.3,145.5 L2175.1,145.4 L2177.0,145.2 L2178.8,145.1 L2180.6,144.9 L2182.4,144.8 L2184.2,144.7 L2186.0,144.5 L2187.8,144.4 L2189.6,144.2 L2191.4,144.1 L2193.2,143.9 L2195.0,143.8 L2196.9,143.6 L2198.7,143.5 L2200.5,143.3 L2202.3,143.2 L2204.1,143.0 L2205.9,142.9 L2207.7,142.8 L2209.5,142.6 L2211.3,142.5 L2213.1,142.3 L2215.0,142.2 L2216.8,142.0 L2218.6,141.9 L2220.4,141.7 L2222.2,141.6 L2224.0,141.4 L2225.8,141.3 L2227.6,141.2 L2229.4,141.0 L2231.2,140.9 L2233.0,140.7 L2234.9,140.6 L2236.7,140.4 L2238.5,140.3 L2240.3,140.1 L2242.1,140.0 L2243.9,139.9 L2245.7,139.7 L2247.5,139.6 L2249.3,139.4 L2251.1,139.3 L2253.0,139.1 L2254.8,139.0 L2256.6,138.8 L2258.4,138.7 L2260.2,138.6 L2262.0,138.4 L2263.8,138.3 L2265.6,138.1 L2267.4,138.0 L2269.2,137.8 L2271.1,137.7 L2272.9,137.6" stroke="#92D050" stroke-dasharray="35.60 25.30 35.60 25.30 35.60 25.30 35.60 25.30 35.60 25.30 35.60 25.30 35.60 25.30 35.60 25.30 35.60 25.30 35.60 25.33 35.60 25.45 35.60 25.45 35.60 25.45 35.60 25.23 35.60 25.18 35.60 25.18 35.60 25.18 35.60 25.36 35.60 25.52 35.60 25.52 35.60 25.52 35.60 25.52 35.60 25.52 35.60 25.51 35.60 25.51 35.60 25.51 35.60 25.51 35.60 25.51 35.60 25.51 35.60 25.56 35.60 25.59 35.60 25.59 35.60 25.59 35.60 25.59 35.60 25.59 35.60 25.52 35.60 25.44 35.60 25.44 35.60 25.44 35.60 25.44 35.60 25.44 35.60 25.41 35.60 25.30 35.60 25.30 35.60 50.79"/>
<path d="M349.5,1322.7 L349.6,1320.9 L349.7,1319.0 L349.8,1317.1 L349.9,1315.3 L350.0,1313.4 L350.1,1311.5 L350.1,1309.7 L350.2,1307.8 L350.3,1305.9 L350.4,1304.1 L350.5,1302.2 L350.6,1300.3 L350.6,1298.5 L350.7,1296.6 L350.8,1294.7 L350.9,1292.9 L351.0,1291.0 L351.0,1289.1 L351.1,1287.3 L351.2,1285.4 L351.3,1283.6 L351.4,1281.7 L351.4,1279.8 L351.5,1278.0 L351.6,1276.1 L351.7,1274.2 L351.7,1272.4 L351.8,1270.5 L351.9,1268.6 L351.9,1266.8 L352.0,1264.9 L352.1,1263.0 L352.1,1261.2 L352.2,1259.3 L352.3,1257.4 L352.3,1255.6 L352.4,1253.7 L352.5,1251.8 L352.5,1250.0 L352.6,1248.1 L352.7,1246.2 L352.7,1244.4 L352.8,1242.5 L352.8,1240.6 L352.9,1238.8 L353.0,1236.9 L353.0,1235.0 L353.1,1233.2 L353.1,1231.3 L353.2,1229.4 L353.2,1227.6 L353.3,1225.7 L353.4,1223.8 L353.4,1222.0 L353.5,1220.1 L353.5,1218.2 L353.6,1216.4 L353.6,1214.5 L353.7,1212.7 L353.7,1210.8 L353.8,1208.9 L353.8,1207.1 L353.9,1205.2 L353.9,1203.3 L353.9,1201.5 L354.0,1199.6 L354.0,1197.7 L354.1,1195.9 L354.1,1194.0 L354.2,1192.1 L354.2,1190.3 L354.2,1188.4 L354.3,1186.5 L354.3,1184.7 L354.4,1182.8 L354.4,1180.9 L354.4,1179.1 L354.5,1177.2 L354.5,1175.3 L354.5,1173.5 L354.6,1171.6 L354.6,1169.7 L354.6,1167.9 L354.7,1166.0 L354.7,1164.1 L354.7,1162.3 L354.8,1160.4 L354.8,1158.6 L354.8,1156.7 L354.9,1154.8 L354.9,1153.0 L354.9,1151.1 L354.9,1149.2 L355.0,1147.4 L355.0,1145.5 L355.0,1143.6 L355.0,1141.8 L355.1,1139.9 L355.1,1138.0 L355.1,1136.2 L355.1,1134.3 L355.2,1132.4 L355.2,1130.6 L355.2,1128.7 L355.2,1126.8 L355.2,1125.0 L355.2,1123.1 L355.3,1121.2 L355.3,1119.4 L355.3,1117.5 L355.3,1115.6 L355.3,1113.8 L355.3,1111.9 L355.3,1110.0 L355.4,1108.2 L355.4,1106.3 L355.4,1104.4 L355.4,1102.6 L355.4,1100.7 L355.4,1098.9 L355.4,1097.0 L355.4,1095.1 L355.4,1093.3 L355.4,1091.4 L355.4,1089.5 L355.5,1087.7 L355.5,1085.8 L355.5,1083.9 L355.5,1082.1 L355.5,1080.2 L355.5,1078.3 L355.5,1076.5 L355.5,1074.6 L355.5,1072.7 L355.5,1070.9 L355.5,1069.0 L355.5,1067.1 L355.5,1065.3 L355.5,1063.4 L355.5,1061.5 L355.5,1059.7 L355.5,1057.8 L355.4,1055.9 L355.4,1054.1 L355.4,1052.2 L355.4,1050.3 L355.4,1048.5 L355.4,1046.6 L355.4,1044.7 L355.4,1042.9 L355.4,1041.0 L355.4,1039.1 L355.4,1037.3 L355.3,1035.4 L355.3,1033.5 L355.3,1031.7 L355.3,1029.8 L355.3,1027.9 L355.3,1026.1 L355.3,1024.2 L355.2,1022.3 L355.2,1020.5 L355.2,1018.6 L355.2,1016.7 L355.2,1014.9 L355.2,1013.0 L355.1,1011.1 L355.1,1009.3 L355.1,1007.4 L355.1,1005.5 L355.0,1003.7 L355.0,1001.8 L355.0,999.9 L355.0,998.1 L354.9,996.2 L354.9,994.3 L354.9,992.5 L354.9,990.6 L354.8,988.7 L354.8,986.9 L354.8,985.0 L354.8,983.1 L354.7,981.2 L354.7,979.4 L354.7,977.5 L354.6,975.6 L354.6,973.8 L354.6,971.9 L354.5,970.0 L354.5,968.2 L354.5,966.3 L354.4,964.4 L354.4,962.6 L354.4,960.7 L354.3,958.8 L354.3,957.0 L354.3,955.1 L354.2,953.2 L354.2,951.4 L354.1,949.5 L354.1,947.6 L354.1,945.8 L354.0,943.9 L354.0,942.0 L353.9,940.2 L353.9,938.3 L353.8,936.4 L353.8,934.5 L353.8,932.7 L353.7,930.8 L353.7,928.9 L353.6,927.1 L353.6,925.2 L353.5,923.3 L353.5,921.5 L353.4,919.6 L353.4,917.7 L353.3,915.9 L353.3,914.0 L353.2,912.1 L353.2,910.2 L353.2,908.4 L353.1,906.5 L353.1,904.6 L353.0,902.8 L353.0,900.9 L352.9,899.0 L352.9,897.2 L352.8,895.3 L352.8,893.4 L352.7,891.6 L352.7,889.7 L352.6,887.8 L352.6,885.9 L352.5,884.1 L352.5,882.2 L352.4,880.3 L352.4,878.5 L352.3,876.6 L352.3,874.7 L352.3,872.9 L352.2,871.0 L352.2,869.1 L352.1,867.3 L352.1,865.4 L352.0,863.5 L352.0,861.7 L352.0,859.8 L351.9,857.9 L351.9,856.0 L351.8,854.2 L351.8,852.3 L351.8,850.4 L351.7,848.6 L351.7,846.7 L351.7,844.8 L351.6,843.0 L351.6,841.1 L351.6,839.2 L351.5,837.4 L351.5,835.5 L351.5,833.6 L351.4,831.8 L351.4,829.9 L351.4,828.0 L351.4,826.2 L351.3,824.3 L351.3,822.4 L351.3,820.5 L351.3,818.7 L351.3,816.8 L351.2,814.9 L351.2,813.1 L351.2,811.2 L351.2,809.3 L351.2,807.5 L351.2,805.6 L351.2,803.7 L351.2,801.9 L351.1,800.0 L351.1,798.1 L351.1,796.3 L351.1,794.4 L351.1,792.5 L351.1,790.7 L351.1,788.8 L351.1,786.9 L351.2,785.1 L351.2,783.2 L351.2,781.4 L351.2,779.5 L351.2,777.6 L351.2,775.8 L351.2,773.9 L351.2,772.0 L351.3,770.2 L351.3,768.3 L351.3,766.4 L351.3,764.6 L351.4,762.7 L351.4,760.8 L351.4,759.0 L351.5,757.1 L351.5,755.2 L351.5,753.4 L351.6,751.5 L351.6,749.7 L351.7,747.8 L351.7,745.9 L351.8,744.1 L351.8,742.2 L351.9,740.3 L351.9,738.5 L352.0,736.6 L352.1,734.8 L352.1,732.9 L352.2,731.0 L352.3,729.2 L352.3,727.3 L352.4,725.4 L352.5,723.6 L352.6,721.7 L352.7,719.9 L352.8,718.0 L352.8,716.1 L352.9,714.3 L353.0,712.4 L353.1,710.6 L353.2,708.7 L353.3,706.8 L353.4,705.0 L353.5,703.1 L353.7,701.3 L353.8,699.4 L353.9,697.6 L354.0,695.7 L354.1,693.8 L354.3,692.0 L354.4,690.1 L354.5,688.3 L354.7,686.4 L354.8,684.6 L354.9,682.7 L355.1,680.8 L355.2,679.0 L355.4,677.1 L355.5,675.3 L355.7,673.4 L355.9,671.6 L356.0,669.7 L356.2,667.8 L356.4,666.0 L356.6,664.1 L356.7,662.3 L356.9,660.4 L357.1,658.6 L357.3,656.7 L357.5,654.9 L357.7,653.0 L357.9,651.2 L358.1,649.3 L358.3,647.5 L358.5,645.6 L358.7,643.8 L359.0,641.9 L359.2,640.1 L359.4,638.2 L359.6,636.4 L359.9,634.5 L360.1,632.7 L360.4,630.8 L360.6,629.0 L360.9,627.1 L361.1,625.3 L361.4,623.4 L361.7,621.6 L361.9,619.7 L362.2,617.9 L362.5,616.0 L362.8,614.2 L363.0,612.3 L363.3,610.5 L363.6,608.6 L363.9,606.8 L364.2,604.9 L364.5,603.1 L364.8,601.2 L365.2,599.4 L365.5,597.6 L365.8,595.7 L366.1,593.9 L366.5,592.0 L366.8,590.2 L367.2,588.3 L367.5,586.5 L367.9,584.7 L368.2,582.8 L368.6,581.0 L369.0,579.1 L369.3,577.3 L369.7,575.4 L370.1,573.6 L370.5,571.8 L370.9,569.9 L371.3,568.1 L371.7,566.3 L372.1,564.4 L372.5,562.6 L372.9,560.8 L373.3,558.9 L373.8,557.1 L374.2,555.3 L374.6,553.4 L375.1,551.6 L375.5,549.8 L376.0,547.9 L376.5,546.1 L376.9,544.3 L377.4,542.5 L377.9,540.7 L378.4,538.9 L378.9,537.0 L379.4,535.2 L379.9,533.4 L380.4,531.6 L380.9,529.8 L381.5,528.0 L382.0,526.2 L382.6,524.4 L383.1,522.6 L383.7,520.8 L384.2,519.0 L384.8,517.2 L385.4,515.5 L386.0,513.7 L386.6,511.9 L387.2,510.1 L387.8,508.3 L388.4,506.6 L389.0,504.8 L389.7,503.1 L390.3,501.3 L390.9,499.5 L391.6,497.8 L392.3,496.0 L392.9,494.3 L393.6,492.6 L394.3,490.8 L395.0,489.1 L395.7,487.4 L396.4,485.6 L397.2,483.9 L397.9,482.2 L398.6,480.5 L399.4,478.8 L400.1,477.1 L400.9,475.4 L401.7,473.7 L402.5,472.0 L403.3,470.3 L404.1,468.7 L404.9,467.0 L405.7,465.3 L406.5,463.6 L407.4,462.0 L408.2,460.3 L409.1,458.7 L410.0,457.0 L410.9,455.4 L411.7,453.8 L412.6,452.2 L413.6,450.5 L414.5,448.9 L415.4,447.3 L416.4,445.7 L417.3,444.1 L418.3,442.5 L419.2,440.9 L420.2,439.4 L421.2,437.8 L422.2,436.2 L423.2,434.7 L424.3,433.1 L425.3,431.6 L426.4,430.0 L427.4,428.5 L428.5,427.0 L429.6,425.5 L430.7,424.0 L431.8,422.4 L432.9,420.9 L434.0,419.5 L435.1,418.0 L436.3,416.5 L437.4,415.0 L438.6,413.6 L439.8,412.1 L441.0,410.7 L442.2,409.2 L443.4,407.8 L444.6,406.4 L445.8,405.0 L447.1,403.6 L448.3,402.2 L449.6,400.8 L450.8,399.4 L452.1,398.1 L453.4,396.7 L454.7,395.4 L456.0,394.0 L457.3,392.7 L458.6,391.4 L459.9,390.0 L461.3,388.7 L462.6,387.4 L464.0,386.2 L465.3,384.9 L466.7,383.6 L468.1,382.4 L469.5,381.1 L470.9,379.9 L472.3,378.7 L473.7,377.4 L475.1,376.2 L476.6,375.0 L478.0,373.9 L479.5,372.7 L480.9,371.5 L482.4,370.4 L483.9,369.2 L485.3,368.1 L486.8,367.0 L488.3,365.9 L489.8,364.8 L491.3,363.7 L492.8,362.6 L494.4,361.6 L495.9,360.5 L497.4,359.5 L499.0,358.5 L500.5,357.4 L502.1,356.4 L503.7,355.5 L505.2,354.5 L506.8,353.5 L508.4,352.6 L510.0,351.6 L511.6,350.7 L513.2,349.8 L514.8,348.9 L516.4,348.0 L518.1,347.1 L519.7,346.3 L521.3,345.4 L523.0,344.6 L524.6,343.8 L526.3,342.9 L527.9,342.2 L529.6,341.4 L531.3,340.6 L533.0,339.8 L534.6,339.1 L536.3,338.3 L538.0,337.6 L539.7,336.9 L541.4,336.2 L543.1,335.5 L544.8,334.8 L546.6,334.2 L548.3,333.5 L550.0,332.9 L551.7,332.2 L553.5,331.6 L555.2,331.0 L557.0,330.4 L558.7,329.8 L560.5,329.2 L562.2,328.6 L564.0,328.1 L565.8,327.5 L567.5,327.0 L569.3,326.5 L571.1,325.9 L572.9,325.4 L574.7,324.9 L576.5,324.4 L578.2,323.9 L580.0,323.4 L581.8,323.0 L583.7,322.5 L585.5,322.1 L587.3,321.6 L589.1,321.2 L590.9,320.7 L592.7,320.3 L594.5,319.9 L596.4,319.5 L598.2,319.1 L600.0,318.7 L601.9,318.3 L603.7,318.0 L605.5,317.6 L607.4,317.2 L609.2,316.9 L611.1,316.5 L612.9,316.2 L614.8,315.8 L616.6,315.5 L618.5,315.2 L620.3,314.9 L622.2,314.6 L624.0,314.2 L625.9,313.9 L627.7,313.6 L629.6,313.4 L631.5,313.1 L633.3,312.8 L635.2,312.5 L637.1,312.2 L638.9,312.0 L640.8,311.7 L642.7,311.5 L644.5,311.2 L646.4,311.0 L648.3,310.7 L650.2,310.5 L652.0,310.2 L653.9,310.0 L655.8,309.8 L657.6,309.6 L659.5,309.3 L661.4,309.1 L663.3,308.9 L665.1,308.7 L667.0,308.5 L668.9,308.3 L670.8,308.1 L672.6,307.9 L674.5,307.7 L676.4,307.5 L678.3,307.3 L680.1,307.1 L682.0,306.9 L683.9,306.7 L685.7,306.5 L687.6,306.3 L689.5,306.2 L691.3,306.0 L693.2,305.8 L695.1,305.6 L697.0,305.5 L698.8,305.3 L700.7,305.1 L702.6,304.9 L704.4,304.8 L706.3,304.6 L708.2,304.5 L710.0,304.3 L711.9,304.1 L713.8,304.0 L715.6,303.8 L717.5,303.7 L719.3,303.5 L721.2,303.3 L723.1,303.2 L724.9,303.0 L726.8,302.9 L728.7,302.7 L730.5,302.6 L732.4,302.4 L734.2,302.3 L736.1,302.2 L738.0,302.0 L739.8,301.9 L741.7,301.7 L743.6,301.6 L745.4,301.4 L747.3,301.3 L749.1,301.2 L751.0,301.0 L752.9,300.9 L754.7,300.7 L756.6,300.6 L758.4,300.5 L760.3,300.3 L762.2,300.2 L764.0,300.1 L765.9,299.9 L767.7,299.8 L769.6,299.6 L771.5,299.5 L773.3,299.4 L775.2,299.2 L777.0,299.1 L778.9,299.0 L780.7,298.8 L782.6,298.7 L784.5,298.6 L786.3,298.4 L788.2,298.3 L790.0,298.1 L791.9,298.0 L793.8,297.9 L795.6,297.7 L797.5,297.6 L799.3,297.5 L801.2,297.3 L803.0,297.2 L804.9,297.0 L806.8,296.9 L808.6,296.8 L810.5,296.6 L812.3,296.5 L814.2,296.3 L816.0,296.2 L817.9,296.0 L819.8,295.9 L821.6,295.7 L823.5,295.6 L825.3,295.5 L827.2,295.3 L829.1,295.2 L830.9,295.0 L832.8,294.9 L834.6,294.7 L836.5,294.6 L838.3,294.4 L840.2,294.3 L842.1,294.1 L843.9,294.0 L845.8,293.8 L847.6,293.7 L849.5,293.5 L851.3,293.4 L853.2,293.2 L855.1,293.0 L856.9,292.9 L858.8,292.7 L860.6,292.6 L862.5,292.4 L864.3,292.3 L866.2,292.1 L868.1,292.0 L869.9,291.8 L871.8,291.6 L873.6,291.5 L875.5,291.3 L877.3,291.2 L879.2,291.0 L881.1,290.8 L882.9,290.7 L884.8,290.5 L886.6,290.3 L888.5,290.2 L890.3,290.0 L892.2,289.9 L894.1,289.7 L895.9,289.5 L897.8,289.4 L899.6,289.2 L901.5,289.0 L903.3,288.9 L905.2,288.7 L907.1,288.5 L908.9,288.4 L910.8,288.2 L912.6,288.0 L914.5,287.9 L916.3,287.7 L918.2,287.5 L920.1,287.4 L921.9,287.2 L923.8,287.0 L925.6,286.8 L927.5,286.7 L929.3,286.5 L931.2,286.3 L933.0,286.1 L934.9,286.0 L936.8,285.8 L938.6,285.6 L940.5,285.5 L942.3,285.3 L944.2,285.1 L946.0,284.9 L947.9,284.8 L949.8,284.6 L951.6,284.4 L953.5,284.2 L955.3,284.0 L957.2,283.9 L959.0,283.7 L960.9,283.5 L962.8,283.3 L964.6,283.1 L966.5,283.0 L968.3,282.8 L970.2,282.6 L972.0,282.4 L973.9,282.2 L975.8,282.1 L977.6,281.9 L979.5,281.7 L981.3,281.5 L983.2,281.3 L985.0,281.2 L986.9,281.0 L988.7,280.8 L990.6,280.6 L992.5,280.4 L994.3,280.2 L996.2,280.0 L998.0,279.9 L999.9,279.7 L1001.7,279.5 L1003.6,279.3 L1005.5,279.1 L1007.3,278.9 L1009.2,278.7 L1011.0,278.5 L1012.9,278.4 L1014.7,278.2 L1016.6,278.0 L1018.4,277.8 L1020.3,277.6 L1022.2,277.4 L1024.0,277.2 L1025.9,277.0 L1027.7,276.8 L1029.6,276.7 L1031.4,276.5 L1033.3,276.3 L1035.2,276.1 L1037.0,275.9 L1038.9,275.7 L1040.7,275.5 L1042.6,275.3 L1044.4,275.1 L1046.3,274.9 L1048.1,274.7 L1050.0,274.5 L1051.9,274.3 L1053.7,274.1 L1055.6,273.9 L1057.4,273.7 L1059.3,273.6 L1061.1,273.4 L1063.0,273.2 L1064.8,273.0 L1066.7,272.8 L1068.6,272.6 L1070.4,272.4 L1072.3,272.2 L1074.1,272.0 L1076.0,271.8 L1077.8,271.6 L1079.7,271.4 L1081.6,271.2 L1083.4,271.0 L1085.3,270.8 L1087.1,270.6 L1089.0,270.4 L1090.8,270.2 L1092.7,270.0 L1094.5,269.8 L1096.4,269.6 L1098.3,269.4 L1100.1,269.2 L1102.0,269.0 L1103.8,268.8 L1105.7,268.6 L1107.5,268.4 L1109.4,268.2 L1111.2,268.0 L1113.1,267.8 L1115.0,267.6 L1116.8,267.4 L1118.7,267.2 L1120.5,267.0 L1122.4,266.8 L1124.2,266.6 L1126.1,266.3 L1127.9,266.1 L1129.8,265.9 L1131.7,265.7 L1133.5,265.5 L1135.4,265.3 L1137.2,265.1 L1139.1,264.9 L1140.9,264.7 L1142.8,264.5 L1144.7,264.3 L1146.5,264.1 L1148.4,263.9 L1150.2,263.7 L1152.1,263.5 L1153.9,263.3 L1155.8,263.1 L1157.6,262.9 L1159.5,262.6 L1161.4,262.4 L1163.2,262.2 L1165.1,262.0 L1166.9,261.8 L1168.8,261.6 L1170.6,261.4 L1172.5,261.2 L1174.3,261.0 L1176.2,260.8 L1178.1,260.6 L1179.9,260.4 L1181.8,260.1 L1183.6,259.9 L1185.5,259.7 L1187.3,259.5 L1189.2,259.3 L1191.0,259.1 L1192.9,258.9 L1194.8,258.7 L1196.6,258.5 L1198.5,258.3 L1200.3,258.0 L1202.2,257.8 L1204.0,257.6 L1205.9,257.4 L1207.7,257.2 L1209.6,257.0 L1211.5,256.8 L1213.3,256.6 L1215.2,256.4 L1217.0,256.1 L1218.9,255.9 L1220.7,255.7 L1222.6,255.5 L1224.4,255.3 L1226.3,255.1 L1228.2,254.9 L1230.0,254.7 L1231.9,254.5 L1233.7,254.2 L1235.6,254.0 L1237.4,253.8 L1239.3,253.6 L1241.1,253.4 L1243.0,253.2 L1244.9,253.0 L1246.7,252.8 L1248.6,252.5 L1250.4,252.3 L1252.3,252.1 L1254.1,251.9 L1256.0,251.7 L1257.8,251.5 L1259.7,251.3 L1261.6,251.1 L1263.4,250.8 L1265.3,250.6 L1267.1,250.4 L1269.0,250.2 L1270.8,250.0 L1272.7,249.8 L1274.5,249.6 L1276.4,249.3 L1278.3,249.1 L1280.1,248.9 L1282.0,248.7 L1283.8,248.5 L1285.7,248.3 L1287.5,248.1 L1289.4,247.9 L1291.2,247.6 L1293.1,247.4 L1295.0,247.2 L1296.8,247.0 L1298.7,246.8 L1300.5,246.6 L1302.4,246.4 L1304.2,246.1 L1306.1,245.9 L1307.9,245.7 L1309.8,245.5 L1311.7,245.3 L1313.5,245.1 L1315.4,244.9 L1317.2,244.6 L1319.1,244.4 L1320.9,244.2 L1322.8,244.0 L1324.6,243.8 L1326.5,243.6 L1328.4,243.4 L1330.2,243.1 L1332.1,242.9 L1333.9,242.7 L1335.8,242.5 L1337.6,242.3 L1339.5,242.1 L1341.3,241.9 L1343.2,241.7 L1345.1,241.4 L1346.9,241.2 L1348.8,241.0 L1350.6,240.8 L1352.5,240.6 L1354.3,240.4 L1356.2,240.2 L1358.0,239.9 L1359.9,239.7 L1361.8,239.5 L1363.6,239.3 L1365.5,239.1 L1367.3,238.9 L1369.2,238.7 L1371.0,238.5 L1372.9,238.2 L1374.7,238.0 L1376.6,237.8 L1378.5,237.6 L1380.3,237.4 L1382.2,237.2 L1384.0,237.0 L1385.9,236.8 L1387.7,236.5 L1389.6,236.3 L1391.5,236.1 L1393.3,235.9 L1395.2,235.7 L1397.0,235.5 L1398.9,235.3 L1400.7,235.1 L1402.6,234.8 L1404.4,234.6 L1406.3,234.4 L1408.2,234.2 L1410.0,234.0 L1411.9,233.8 L1413.7,233.6 L1415.6,233.4 L1417.4,233.2 L1419.3,232.9 L1421.1,232.7 L1423.0,232.5 L1424.9,232.3 L1426.7,232.1 L1428.6,231.9 L1430.4,231.7 L1432.3,231.5 L1434.1,231.3 L1436.0,231.1 L1437.8,230.8 L1439.7,230.6 L1441.6,230.4 L1443.4,230.2 L1445.3,230.0 L1447.1,229.8 L1449.0,229.6 L1450.8,229.4 L1452.7,229.2 L1454.5,229.0 L1456.4,228.8 L1458.3,228.6 L1460.1,228.3 L1462.0,228.1 L1463.8,227.9 L1465.7,227.7 L1467.5,227.5 L1469.4,227.3 L1471.3,227.1 L1473.1,226.9 L1475.0,226.7 L1476.8,226.5 L1478.7,226.3 L1480.5,226.1 L1482.4,225.9 L1484.2,225.7 L1486.1,225.5 L1488.0,225.3 L1489.8,225.0 L1491.7,224.8 L1493.5,224.6 L1495.4,224.4 L1497.2,224.2 L1499.1,224.0 L1501.0,223.8 L1502.8,223.6 L1504.7,223.4 L1506.5,223.2 L1508.4,223.0 L1510.2,222.8 L1512.1,222.6 L1513.9,222.4 L1515.8,222.2 L1517.7,222.0 L1519.5,221.8 L1521.4,221.6 L1523.2,221.4 L1525.1,221.2 L1526.9,221.0 L1528.8,220.8 L1530.7,220.6 L1532.5,220.4 L1534.4,220.2 L1536.2,220.0 L1538.1,219.8 L1539.9,219.6 L1541.8,219.4 L1543.6,219.2 L1545.5,219.0 L1547.4,218.8 L1549.2,218.6 L1551.1,218.4 L1552.9,218.2 L1554.8,218.0 L1556.6,217.8 L1558.5,217.6 L1560.4,217.4 L1562.2,217.2 L1564.1,217.0 L1565.9,216.8 L1567.8,216.6 L1569.6,216.4 L1571.5,216.2 L1573.3,216.0 L1575.2,215.8 L1577.1,215.6 L1578.9,215.4 L1580.8,215.2 L1582.6,215.0 L1584.5,214.8 L1586.3,214.6 L1588.2,214.4 L1590.1,214.2 L1591.9,214.0 L1593.8,213.8 L1595.6,213.6 L1597.5,213.5 L1599.3,213.3 L1601.2,213.1 L1603.1,212.9 L1604.9,212.7 L1606.8,212.5 L1608.6,212.3 L1610.5,212.1 L1612.3,211.9 L1614.2,211.7 L1616.0,211.5 L1617.9,211.3 L1619.8,211.1 L1621.6,210.9 L1623.5,210.7 L1625.3,210.5 L1627.2,210.3 L1629.0,210.2 L1630.9,210.0 L1632.8,209.8 L1634.6,209.6 L1636.5,209.4 L1638.3,209.2 L1640.2,209.0 L1642.0,208.8 L1643.9,208.6 L1645.8,208.4 L1647.6,208.2 L1649.5,208.0 L1651.3,207.9 L1653.2,207.7 L1655.0,207.5 L1656.9,207.3 L1658.8,207.1 L1660.6,206.9 L1662.5,206.7 L1664.3,206.5 L1666.2,206.3 L1668.0,206.1 L1669.9,205.9 L1671.8,205.8 L1673.6,205.6 L1675.5,205.4 L1677.3,205.2 L1679.2,205.0 L1681.0,204.8 L1682.9,204.6 L1684.8,204.4 L1686.6,204.2 L1688.5,204.1 L1690.3,203.9 L1692.2,203.7 L1694.0,203.5 L1695.9,203.3 L1697.8,203.1 L1699.6,202.9 L1701.5,202.7 L1703.3,202.6 L1705.2,202.4 L1707.0,202.2 L1708.9,202.0 L1710.8,201.8 L1712.6,201.6 L1714.5,201.4 L1716.3,201.2 L1718.2,201.1 L1720.0,200.9 L1721.9,200.7 L1723.8,200.5 L1725.6,200.3 L1727.5,200.1 L1729.3,199.9 L1731.2,199.7 L1733.0,199.6 L1734.9,199.4 L1736.8,199.2 L1738.6,199.0 L1740.5,198.8 L1742.3,198.6 L1744.2,198.4 L1746.0,198.3 L1747.9,198.1 L1749.8,197.9 L1751.6,197.7 L1753.5,197.5 L1755.3,197.3 L1757.2,197.2 L1759.0,197.0 L1760.9,196.8 L1762.8,196.6 L1764.6,196.4 L1766.5,196.2 L1768.3,196.0 L1770.2,195.9 L1772.0,195.7 L1773.9,195.5 L1775.8,195.3 L1777.6,195.1 L1779.5,194.9 L1781.3,194.8 L1783.2,194.6 L1785.0,194.4 L1786.9,194.2 L1788.8,194.0 L1790.6,193.8 L1792.5,193.7 L1794.3,193.5 L1796.2,193.3 L1798.0,193.1 L1799.9,192.9 L1801.8,192.8 L1803.6,192.6 L1805.5,192.4 L1807.3,192.2 L1809.2,192.0 L1811.0,191.8 L1812.9,191.7 L1814.8,191.5 L1816.6,191.3 L1818.5,191.1 L1820.3,190.9 L1822.2,190.8 L1824.1,190.6 L1825.9,190.4 L1827.8,190.2 L1829.6,190.0 L1831.5,189.8 L1833.3,189.7 L1835.2,189.5 L1837.1,189.3 L1838.9,189.1 L1840.8,188.9 L1842.6,188.8 L1844.5,188.6 L1846.3,188.4 L1848.2,188.2 L1850.1,188.0 L1851.9,187.9 L1853.8,187.7 L1855.6,187.5 L1857.5,187.3 L1859.3,187.1 L1861.2,187.0 L1863.1,186.8 L1864.9,186.6 L1866.8,186.4 L1868.6,186.2 L1870.5,186.1 L1872.4,185.9 L1874.2,185.7 L1876.1,185.5 L1877.9,185.3 L1879.8,185.2 L1881.6,185.0 L1883.5,184.8 L1885.4,184.6 L1887.2,184.4 L1889.1,184.3 L1890.9,184.1 L1892.8,183.9 L1894.6,183.7 L1896.5,183.6 L1898.4,183.4 L1900.2,183.2 L1902.1,183.0 L1903.9,182.8 L1905.8,182.7 L1907.7,182.5 L1909.5,182.3 L1911.4,182.1 L1913.2,181.9 L1915.1,181.8 L1916.9,181.6 L1918.8,181.4 L1920.7,181.2 L1922.5,181.1 L1924.4,180.9 L1926.2,180.7 L1928.1,180.5 L1929.9,180.3 L1931.8,180.2 L1933.7,180.0 L1935.5,179.8 L1937.4,179.6 L1939.2,179.5 L1941.1,179.3 L1943.0,179.1 L1944.8,178.9 L1946.7,178.7 L1948.5,178.6 L1950.4,178.4 L1952.2,178.2 L1954.1,178.0 L1956.0,177.9 L1957.8,177.7 L1959.7,177.5 L1961.5,177.3 L1963.4,177.2 L1965.3,177.0 L1967.1,176.8 L1969.0,176.6 L1970.8,176.4 L1972.7,176.3 L1974.5,176.1 L1976.4,175.9 L1978.3,175.7 L1980.1,175.6 L1982.0,175.4 L1983.8,175.2 L1985.7,175.0 L1987.6,174.9 L1989.4,174.7 L1991.3,174.5 L1993.1,174.3 L1995.0,174.1 L1996.8,174.0 L1998.7,173.8 L2000.6,173.6 L2002.4,173.4 L2004.3,173.3 L2006.1,173.1 L2008.0,172.9 L2009.9,172.7 L2011.7,172.6 L2013.6,172.4 L2015.4,172.2 L2017.3,172.0 L2019.1,171.9 L2021.0,171.7 L2022.9,171.5 L2024.7,171.3 L2026.6,171.1 L2028.4,171.0 L2030.3,170.8 L2032.2,170.6 L2034.0,170.4 L2035.9,170.3 L2037.7,170.1 L2039.6,169.9 L2041.4,169.7 L2043.3,169.6 L2045.2,169.4 L2047.0,169.2 L2048.9,169.0 L2050.7,168.9 L2052.6,168.7 L2054.5,168.5 L2056.3,168.3 L2058.2,168.2 L2060.0,168.0 L2061.9,167.8 L2063.8,167.6 L2065.6,167.5 L2067.5,167.3 L2069.3,167.1 L2071.2,166.9 L2073.0,166.7 L2074.9,166.6 L2076.8,166.4 L2078.6,166.2 L2080.5,166.0 L2082.3,165.9 L2084.2,165.7 L2086.1,165.5 L2087.9,165.3 L2089.8,165.2 L2091.6,165.0 L2093.5,164.8 L2095.3,164.6 L2097.2,164.5 L2099.1,164.3 L2100.9,164.1 L2102.8,163.9 L2104.6,163.8 L2106.5,163.6 L2108.4,163.4 L2110.2,163.2 L2112.1,163.1 L2113.9,162.9 L2115.8,162.7 L2117.7,162.5 L2119.5,162.4 L2121.4,162.2 L2123.2,162.0 L2125.1,161.8 L2127.0,161.6 L2128.8,161.5 L2130.7,161.3 L2132.5,161.1 L2134.4,160.9 L2136.2,160.8 L2138.1,160.6 L2140.0,160.4 L2141.8,160.2 L2143.7,160.1 L2145.5,159.9 L2147.4,159.7 L2149.3,159.5 L2151.1,159.4 L2153.0,159.2 L2154.8,159.0 L2156.7,158.8 L2158.6,158.7 L2160.4,158.5 L2162.3,158.3 L2164.1,158.1 L2166.0,157.9 L2167.8,157.8 L2169.7,157.6 L2171.6,157.4 L2173.4,157.2 L2175.3,157.1 L2177.1,156.9 L2179.0,156.7 L2180.9,156.5 L2182.7,156.4 L2184.6,156.2 L2186.4,156.0 L2188.3,155.8 L2190.2,155.6 L2192.0,155.5 L2193.9,155.3 L2195.7,155.1 L2197.6,154.9 L2199.5,154.8 L2201.3,154.6 L2203.2,154.4 L2205.0,154.2 L2206.9,154.1 L2208.8,153.9 L2210.6,153.7 L2212.5,153.5 L2214.3,153.3 L2216.2,153.2 L2218.0,153.0 L2219.9,152.8 L2221.8,152.6 L2223.6,152.5 L2225.5,152.3 L2227.3,152.1 L2229.2,151.9 L2231.1,151.7 L2232.9,151.6 L2234.8,151.4 L2236.6,151.2 L2238.5,151.0 L2240.4,150.9 L2242.2,150.7 L2244.1,150.5 L2245.9,150.3 L2247.8,150.1 L2249.7,150.0 L2251.5,149.8 L2253.4,149.6 L2255.2,149.4 L2257.1,149.3 L2259.0,149.1 L2260.8,148.9 L2262.7,148.7 L2264.5,148.5 L2266.4,148.4 L2268.3,148.2 L2270.1,148.0 L2272.0,147.8" stroke="#7030A0" stroke-dasharray="13.64 25.18 9.40 25.11 36.00 25.11 9.40 25.11 36.00 25.13 9.40 25.18 36.00 25.18 9.40 25.18 36.00 25.17 9.40 25.11 36.00 25.11 9.40 25.11 36.00 25.11 9.40 25.28 36.00 25.30 9.40 25.30 36.00 25.30 9.40 25.15 36.00 25.06 9.40 25.06 36.00 25.06 9.40 25.06 36.00 25.06 9.40 25.06 36.00 25.16 9.40 25.26 36.00 25.26 9.40 25.26 36.00 25.26 9.40 25.26 36.00 25.26 9.40 25.28 36.00 25.30 9.40 25.30 36.00 25.30 9.40 25.30 36.00 25.30 9.40 25.30 36.00 25.30 9.40 25.30 36.00 25.30 9.40 25.30 36.00 25.30 9.40 25.30 36.00 25.30 9.40 25.30 36.00 25.30 9.40 25.30 36.00 25.30 9.40 25.30 36.00 25.30 9.40 25.30 36.00 25.30 9.40 25.30 36.00 25.30 9.40 25.30 36.00 25.30 9.40 25.30 36.00 54.91"/>
</g>
<line x1="642.8" y1="363.2" x2="749.4" y2="488.2" stroke="#000" stroke-width="5.2" stroke-linecap="round"/>
<g font-family="'Liberation Serif', 'Times New Roman', serif" font-size="87.5" fill="#000" text-anchor="middle">
<text transform="translate(482.6 865.9) scale(1 1.018)">1</text>
<text transform="translate(1560.6 346.9) scale(1 1.018)">2</text>
<text transform="translate(809.8 545.2) scale(1 1.018)">3</text>
<text transform="translate(537.8 278.9) scale(1 1.018)">4</text>
</g>
</svg>
</body>
</html>
